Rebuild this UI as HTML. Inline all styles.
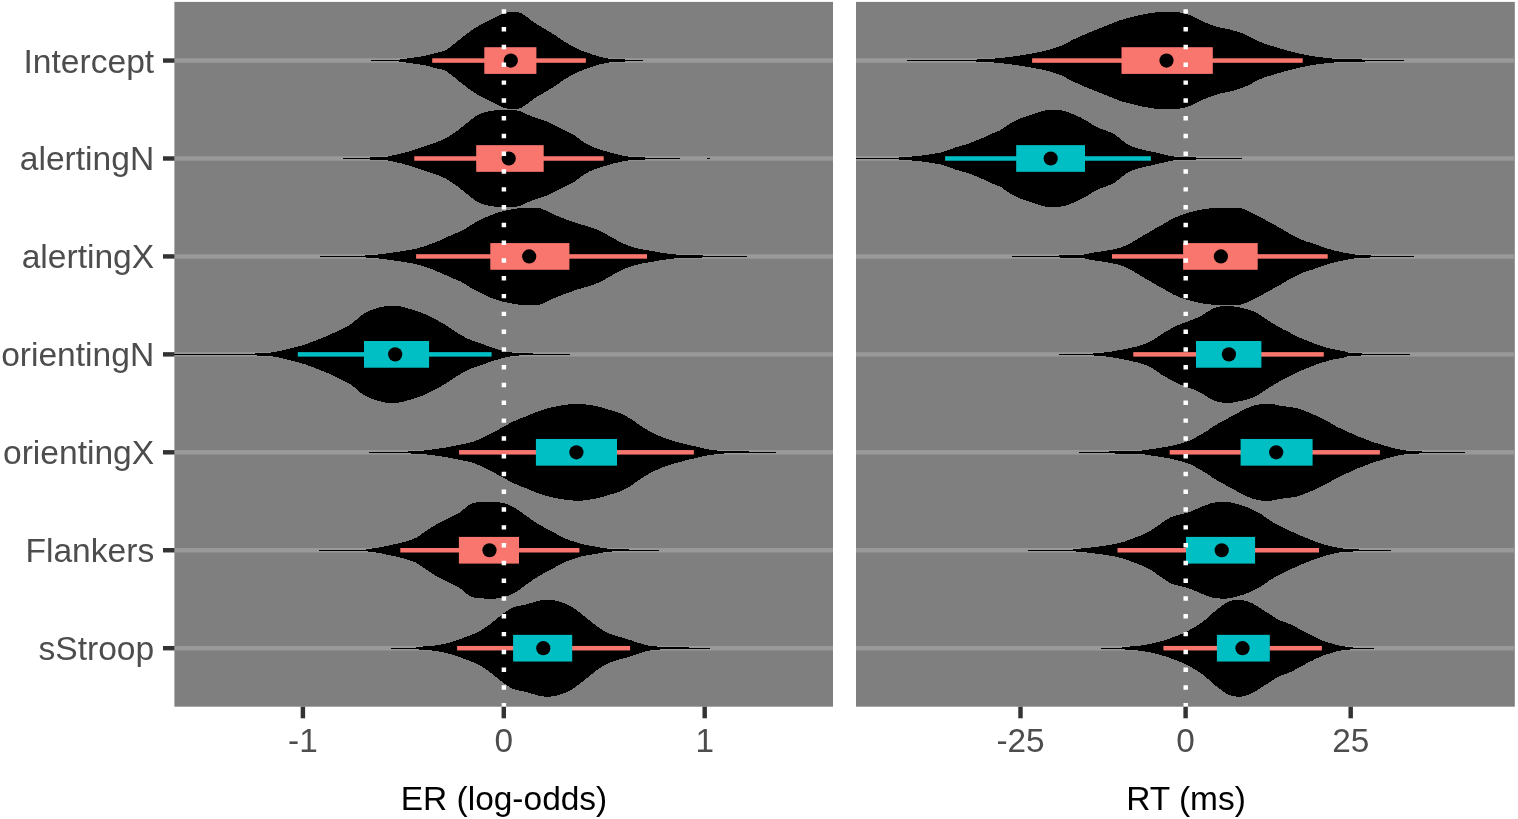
<!DOCTYPE html>
<html lang="en">
<head>
<meta charset="utf-8">
<title>Posterior estimates: ER (log-odds) and RT (ms)</title>
<style>
html,body{margin:0;padding:0;background:#fff;}
body{width:1518px;height:819px;overflow:hidden;}
svg{display:block;}
text{font-family:"Liberation Sans",sans-serif;font-size:33.33px;}
.ax{fill:#4D4D4D;}
.ti{fill:#000;font-size:33.47px;}
.yl{font-size:33.6px;}
</style>
</head>
<body>
<svg width="1518" height="819" viewBox="0 0 1518 819">
<rect x="0" y="0" width="1518" height="819" fill="#fff"/>
<g>
<rect x="174.4" y="1.9" width="658.6" height="704.8" fill="#7F7F7F"/>
<g stroke="#999999" stroke-width="4.45">
<line x1="174.4" y1="60.55" x2="833" y2="60.55"/>
<line x1="174.4" y1="158.49" x2="833" y2="158.49"/>
<line x1="174.4" y1="256.43" x2="833" y2="256.43"/>
<line x1="174.4" y1="354.37" x2="833" y2="354.37"/>
<line x1="174.4" y1="452.31" x2="833" y2="452.31"/>
<line x1="174.4" y1="550.25" x2="833" y2="550.25"/>
<line x1="174.4" y1="648.19" x2="833" y2="648.19"/>
</g>
<g fill="#000" shape-rendering="crispEdges">
<polygon points="371.2,60.05 372,60.05 373,60.05 374,60.05 375,60.05 376,60.05 377,60.05 378,60.05 379,60.05 380,60.05 381,60.05 382,60.05 383,60.05 384,60.05 385,60.05 386,60.05 387,60.05 388,60.05 389,60.05 390,60.05 391,60.05 392,60.05 393,60.05 394,60.05 395,60.05 396,60.05 397,60.05 398,60.05 399,59.74 400,59.45 401,59.26 402,59.09 403,58.94 404,58.8 405,58.68 406,58.57 407,58.45 408,58.33 409,58.21 410,58.07 411,57.92 412,57.78 413,57.65 414,57.51 415,57.37 416,57.23 417,57.09 418,56.95 419,56.8 420,56.64 421,56.48 422,56.31 423,56.13 424,55.93 425,55.72 426,55.5 427,55.26 428,55.01 429,54.75 430,54.49 431,54.22 432,53.95 433,53.68 434,53.41 435,53.15 436,52.89 437,52.65 438,52.42 439,52.21 440,52 441,51.77 442,51.53 443,51.25 444,50.92 445,50.51 446,49.97 447,49.33 448,48.63 449,47.91 450,47.2 451,46.45 452,45.66 453,44.84 454,44.01 455,43.18 456,42.36 457,41.56 458,40.76 459,39.95 460,39.15 461,38.35 462,37.56 463,36.78 464,36 465,35.22 466,34.45 467,33.69 468,32.95 469,32.21 470,31.5 471,30.79 472,30.09 473,29.4 474,28.73 475,28.08 476,27.46 477,26.86 478,26.28 479,25.71 480,25.16 481,24.62 482,24.09 483,23.57 484,23.05 485,22.55 486,22.06 487,21.57 488,21.08 489,20.58 490,20.08 491,19.58 492,19.08 493,18.58 494,18.08 495,17.58 496,17.08 497,16.55 498,16 499,15.45 500,14.93 501,14.46 502,14.05 503,13.71 504,13.37 505,13.05 506,12.76 507,12.52 508,12.35 509,12.25 510,12.19 511,12.13 512,12.08 513,12.04 514,12.01 515,12 516,12.02 517,12.14 518,12.34 519,12.57 520,12.85 521,13.24 522,13.74 523,14.3 524,14.91 525,15.53 526,16.26 527,17.06 528,17.87 529,18.64 530,19.4 531,20.17 532,20.93 533,21.67 534,22.39 535,23.08 536,23.73 537,24.35 538,24.95 539,25.53 540,26.11 541,26.69 542,27.29 543,27.88 544,28.48 545,29.08 546,29.68 547,30.28 548,30.88 549,31.48 550,32.07 551,32.65 552,33.24 553,33.83 554,34.45 555,35.08 556,35.75 557,36.45 558,37.16 559,37.88 560,38.6 561,39.29 562,39.96 563,40.63 564,41.28 565,41.93 566,42.56 567,43.18 568,43.79 569,44.39 570,44.98 571,45.56 572,46.12 573,46.67 574,47.19 575,47.69 576,48.17 577,48.63 578,49.07 579,49.5 580,49.92 581,50.32 582,50.71 583,51.09 584,51.45 585,51.8 586,52.15 587,52.5 588,52.85 589,53.22 590,53.59 591,53.97 592,54.33 593,54.69 594,55.03 595,55.34 596,55.65 597,55.95 598,56.24 599,56.51 600,56.77 601,57.01 602,57.24 603,57.47 604,57.7 605,57.92 606,58.13 607,58.31 608,58.48 609,58.62 610,58.73 611,58.81 612,58.87 613,58.93 614,58.97 615,59.01 616,59.04 617,59.07 618,59.1 619,59.13 620,59.17 621,59.22 622,59.27 623,59.34 624,59.43 625,59.53 626,59.86 627,60.05 628,60.05 629,60.05 630,60.05 631,60.05 632,60.05 633,60.05 634,60.05 635,60.05 636,60.05 637,60.05 638,60.05 639,60.05 640,60.05 641,60.05 642,60.05 643,60.05 643,60.05 643,61.05 643,61.05 642,61.05 641,61.05 640,61.05 639,61.05 638,61.05 637,61.05 636,61.05 635,61.05 634,61.05 633,61.05 632,61.05 631,61.05 630,61.05 629,61.05 628,61.05 627,61.05 626,61.24 625,61.57 624,61.67 623,61.76 622,61.83 621,61.88 620,61.93 619,61.97 618,62 617,62.03 616,62.06 615,62.09 614,62.13 613,62.17 612,62.23 611,62.29 610,62.37 609,62.48 608,62.62 607,62.79 606,62.97 605,63.18 604,63.4 603,63.63 602,63.86 601,64.09 600,64.33 599,64.59 598,64.86 597,65.15 596,65.45 595,65.76 594,66.07 593,66.41 592,66.77 591,67.13 590,67.51 589,67.88 588,68.25 587,68.6 586,68.95 585,69.3 584,69.65 583,70.01 582,70.39 581,70.78 580,71.18 579,71.6 578,72.03 577,72.47 576,72.93 575,73.41 574,73.91 573,74.43 572,74.98 571,75.54 570,76.12 569,76.71 568,77.31 567,77.92 566,78.54 565,79.17 564,79.82 563,80.47 562,81.14 561,81.81 560,82.5 559,83.22 558,83.94 557,84.65 556,85.35 555,86.02 554,86.65 553,87.27 552,87.86 551,88.45 550,89.03 549,89.62 548,90.22 547,90.82 546,91.42 545,92.02 544,92.62 543,93.22 542,93.81 541,94.41 540,94.99 539,95.57 538,96.15 537,96.75 536,97.37 535,98.02 534,98.71 533,99.43 532,100.17 531,100.93 530,101.7 529,102.46 528,103.23 527,104.04 526,104.84 525,105.57 524,106.19 523,106.8 522,107.36 521,107.86 520,108.25 519,108.53 518,108.76 517,108.96 516,109.08 515,109.1 514,109.09 513,109.06 512,109.02 511,108.97 510,108.91 509,108.85 508,108.75 507,108.58 506,108.34 505,108.05 504,107.73 503,107.39 502,107.05 501,106.64 500,106.17 499,105.65 498,105.1 497,104.55 496,104.02 495,103.52 494,103.02 493,102.52 492,102.02 491,101.52 490,101.02 489,100.52 488,100.02 487,99.53 486,99.04 485,98.55 484,98.05 483,97.53 482,97.01 481,96.48 480,95.94 479,95.39 478,94.82 477,94.24 476,93.64 475,93.02 474,92.37 473,91.7 472,91.01 471,90.31 470,89.6 469,88.89 468,88.15 467,87.41 466,86.65 465,85.88 464,85.1 463,84.32 462,83.54 461,82.75 460,81.95 459,81.15 458,80.34 457,79.54 456,78.74 455,77.92 454,77.09 453,76.26 452,75.44 451,74.65 450,73.9 449,73.19 448,72.47 447,71.77 446,71.13 445,70.59 444,70.18 443,69.85 442,69.57 441,69.33 440,69.1 439,68.89 438,68.68 437,68.45 436,68.21 435,67.95 434,67.69 433,67.42 432,67.15 431,66.88 430,66.61 429,66.35 428,66.09 427,65.84 426,65.6 425,65.38 424,65.17 423,64.97 422,64.79 421,64.62 420,64.46 419,64.3 418,64.15 417,64.01 416,63.87 415,63.73 414,63.59 413,63.45 412,63.32 411,63.18 410,63.03 409,62.89 408,62.77 407,62.65 406,62.53 405,62.42 404,62.3 403,62.16 402,62.01 401,61.84 400,61.65 399,61.36 398,61.05 397,61.05 396,61.05 395,61.05 394,61.05 393,61.05 392,61.05 391,61.05 390,61.05 389,61.05 388,61.05 387,61.05 386,61.05 385,61.05 384,61.05 383,61.05 382,61.05 381,61.05 380,61.05 379,61.05 378,61.05 377,61.05 376,61.05 375,61.05 374,61.05 373,61.05 372,61.05 371.2,61.05"/>
<polygon points="343.2,157.99 344,157.99 345,157.99 346,157.99 347,157.99 348,157.99 349,157.99 350,157.99 351,157.99 352,157.99 353,157.99 354,157.99 355,157.99 356,157.99 357,157.99 358,157.99 359,157.99 360,157.99 361,157.99 362,157.99 363,157.99 364,157.99 365,157.99 366,157.99 367,157.99 368,157.99 369,157.65 370,157.46 371,157.41 372,157.36 373,157.33 374,157.31 375,157.29 376,157.28 377,157.26 378,157.25 379,157.23 380,157.21 381,157.19 382,157.15 383,157.1 384,157.03 385,156.92 386,156.79 387,156.63 388,156.45 389,156.26 390,156.05 391,155.83 392,155.61 393,155.38 394,155.16 395,154.93 396,154.72 397,154.51 398,154.29 399,154.06 400,153.83 401,153.59 402,153.34 403,153.09 404,152.83 405,152.57 406,152.3 407,152.03 408,151.75 409,151.47 410,151.18 411,150.88 412,150.56 413,150.24 414,149.91 415,149.58 416,149.24 417,148.9 418,148.55 419,148.21 420,147.86 421,147.52 422,147.18 423,146.85 424,146.51 425,146.18 426,145.85 427,145.52 428,145.19 429,144.86 430,144.52 431,144.18 432,143.84 433,143.49 434,143.13 435,142.77 436,142.4 437,142.04 438,141.67 439,141.3 440,140.92 441,140.52 442,140.11 443,139.68 444,139.23 445,138.75 446,138.22 447,137.64 448,137.04 449,136.41 450,135.77 451,135.12 452,134.46 453,133.8 454,133.11 455,132.41 456,131.69 457,130.96 458,130.22 459,129.45 460,128.66 461,127.85 462,127.04 463,126.22 464,125.41 465,124.6 466,123.79 467,122.97 468,122.16 469,121.35 470,120.57 471,119.81 472,119.05 473,118.28 474,117.52 475,116.79 476,116.12 477,115.51 478,114.99 479,114.52 480,114.07 481,113.66 482,113.29 483,112.94 484,112.62 485,112.33 486,112.04 487,111.78 488,111.54 489,111.32 490,111.12 491,110.95 492,110.8 493,110.65 494,110.52 495,110.4 496,110.3 497,110.22 498,110.16 499,110.11 500,110.05 501,110.01 502,109.97 503,109.95 504,109.94 505,109.94 506,109.94 507,109.94 508,109.94 509,109.94 510,109.94 511,109.94 512,109.94 513,109.98 514,110.07 515,110.2 516,110.37 517,110.57 518,110.79 519,111.02 520,111.26 521,111.56 522,111.95 523,112.42 524,112.91 525,113.42 526,113.9 527,114.33 528,114.74 529,115.15 530,115.56 531,115.95 532,116.34 533,116.73 534,117.1 535,117.48 536,117.85 537,118.21 538,118.57 539,118.91 540,119.24 541,119.54 542,119.83 543,120.1 544,120.38 545,120.68 546,121.01 547,121.4 548,121.85 549,122.35 550,122.88 551,123.42 552,123.95 553,124.47 554,124.97 555,125.47 556,125.97 557,126.47 558,126.97 559,127.47 560,127.97 561,128.47 562,128.97 563,129.47 564,129.97 565,130.47 566,130.97 567,131.46 568,131.94 569,132.41 570,132.89 571,133.39 572,133.92 573,134.5 574,135.13 575,135.82 576,136.53 577,137.27 578,138.01 579,138.73 580,139.44 581,140.17 582,140.91 583,141.64 584,142.34 585,143.01 586,143.62 587,144.18 588,144.73 589,145.24 590,145.73 591,146.2 592,146.64 593,147.06 594,147.46 595,147.83 596,148.19 597,148.53 598,148.87 599,149.2 600,149.52 601,149.82 602,150.12 603,150.41 604,150.71 605,151 606,151.3 607,151.6 608,151.92 609,152.23 610,152.53 611,152.82 612,153.1 613,153.37 614,153.62 615,153.87 616,154.11 617,154.34 618,154.57 619,154.79 620,155 621,155.21 622,155.42 623,155.62 624,155.81 625,155.99 626,156.18 627,156.37 628,156.57 629,156.75 630,156.91 631,157.04 632,157.12 633,157.17 634,157.2 635,157.23 636,157.25 637,157.26 638,157.27 639,157.29 640,157.3 641,157.32 642,157.34 643,157.38 644,157.42 645,157.48 646,157.79 647,157.99 648,157.99 649,157.99 650,157.99 651,157.99 652,157.99 653,157.99 654,157.99 655,157.99 656,157.99 657,157.99 658,157.99 659,157.99 660,157.99 661,157.99 662,157.99 663,157.99 664,157.99 665,157.99 666,157.99 667,157.99 668,157.99 669,157.99 670,157.99 671,157.99 672,157.99 673,157.99 674,157.99 675,157.99 676,157.99 677,157.99 678,157.99 679,157.99 680,157.99 680.1,157.99 680.1,158.99 680,158.99 679,158.99 678,158.99 677,158.99 676,158.99 675,158.99 674,158.99 673,158.99 672,158.99 671,158.99 670,158.99 669,158.99 668,158.99 667,158.99 666,158.99 665,158.99 664,158.99 663,158.99 662,158.99 661,158.99 660,158.99 659,158.99 658,158.99 657,158.99 656,158.99 655,158.99 654,158.99 653,158.99 652,158.99 651,158.99 650,158.99 649,158.99 648,158.99 647,158.99 646,159.19 645,159.5 644,159.56 643,159.6 642,159.64 641,159.66 640,159.68 639,159.69 638,159.71 637,159.72 636,159.73 635,159.75 634,159.78 633,159.81 632,159.86 631,159.94 630,160.07 629,160.23 628,160.41 627,160.61 626,160.8 625,160.99 624,161.17 623,161.36 622,161.56 621,161.77 620,161.98 619,162.19 618,162.41 617,162.64 616,162.87 615,163.11 614,163.36 613,163.61 612,163.88 611,164.16 610,164.45 609,164.75 608,165.06 607,165.38 606,165.68 605,165.98 604,166.27 603,166.57 602,166.86 601,167.16 600,167.46 599,167.78 598,168.11 597,168.45 596,168.79 595,169.15 594,169.52 593,169.92 592,170.34 591,170.78 590,171.25 589,171.74 588,172.25 587,172.8 586,173.36 585,173.97 584,174.64 583,175.34 582,176.07 581,176.81 580,177.54 579,178.25 578,178.97 577,179.71 576,180.45 575,181.16 574,181.85 573,182.48 572,183.06 571,183.59 570,184.09 569,184.57 568,185.04 567,185.52 566,186.01 565,186.51 564,187.01 563,187.51 562,188.01 561,188.51 560,189.01 559,189.51 558,190.01 557,190.51 556,191.01 555,191.51 554,192.01 553,192.51 552,193.03 551,193.56 550,194.1 549,194.63 548,195.13 547,195.58 546,195.97 545,196.3 544,196.6 543,196.88 542,197.15 541,197.44 540,197.74 539,198.07 538,198.41 537,198.77 536,199.13 535,199.5 534,199.88 533,200.25 532,200.64 531,201.03 530,201.42 529,201.83 528,202.24 527,202.65 526,203.08 525,203.56 524,204.07 523,204.56 522,205.03 521,205.42 520,205.72 519,205.96 518,206.19 517,206.41 516,206.61 515,206.78 514,206.91 513,207 512,207.04 511,207.04 510,207.04 509,207.04 508,207.04 507,207.04 506,207.04 505,207.04 504,207.04 503,207.03 502,207.01 501,206.97 500,206.93 499,206.87 498,206.82 497,206.76 496,206.68 495,206.58 494,206.46 493,206.33 492,206.18 491,206.03 490,205.86 489,205.66 488,205.44 487,205.2 486,204.94 485,204.65 484,204.36 483,204.04 482,203.69 481,203.32 480,202.91 479,202.46 478,201.99 477,201.47 476,200.86 475,200.19 474,199.46 473,198.7 472,197.93 471,197.17 470,196.41 469,195.63 468,194.82 467,194.01 466,193.19 465,192.38 464,191.57 463,190.76 462,189.94 461,189.13 460,188.32 459,187.53 458,186.76 457,186.02 456,185.29 455,184.57 454,183.87 453,183.18 452,182.52 451,181.86 450,181.21 449,180.57 448,179.94 447,179.34 446,178.76 445,178.23 444,177.75 443,177.3 442,176.87 441,176.46 440,176.06 439,175.68 438,175.31 437,174.94 436,174.58 435,174.21 434,173.85 433,173.49 432,173.14 431,172.8 430,172.46 429,172.12 428,171.79 427,171.46 426,171.13 425,170.8 424,170.47 423,170.13 422,169.8 421,169.46 420,169.12 419,168.77 418,168.43 417,168.08 416,167.74 415,167.4 414,167.07 413,166.74 412,166.42 411,166.1 410,165.8 409,165.51 408,165.23 407,164.95 406,164.68 405,164.41 404,164.15 403,163.89 402,163.64 401,163.39 400,163.15 399,162.92 398,162.69 397,162.47 396,162.26 395,162.05 394,161.82 393,161.6 392,161.37 391,161.15 390,160.93 389,160.72 388,160.53 387,160.35 386,160.19 385,160.06 384,159.95 383,159.88 382,159.83 381,159.79 380,159.77 379,159.75 378,159.73 377,159.72 376,159.7 375,159.69 374,159.67 373,159.65 372,159.62 371,159.57 370,159.52 369,159.33 368,158.99 367,158.99 366,158.99 365,158.99 364,158.99 363,158.99 362,158.99 361,158.99 360,158.99 359,158.99 358,158.99 357,158.99 356,158.99 355,158.99 354,158.99 353,158.99 352,158.99 351,158.99 350,158.99 349,158.99 348,158.99 347,158.99 346,158.99 345,158.99 344,158.99 343.2,158.99"/>
<polygon points="319.9,255.93 320,255.93 321,255.93 322,255.93 323,255.93 324,255.93 325,255.93 326,255.93 327,255.93 328,255.93 329,255.93 330,255.93 331,255.93 332,255.93 333,255.93 334,255.93 335,255.93 336,255.93 337,255.93 338,255.93 339,255.93 340,255.93 341,255.93 342,255.93 343,255.93 344,255.93 345,255.93 346,255.93 347,255.93 348,255.93 349,255.93 350,255.93 351,255.93 352,255.93 353,255.93 354,255.93 355,255.93 356,255.93 357,255.93 358,255.93 359,255.93 360,255.93 361,255.93 362,255.93 363,255.93 364,255.92 365,255.52 366,255.35 367,255.24 368,255.16 369,255.1 370,255.04 371,255 372,254.95 373,254.91 374,254.86 375,254.79 376,254.71 377,254.62 378,254.51 379,254.4 380,254.27 381,254.14 382,254.01 383,253.87 384,253.72 385,253.58 386,253.44 387,253.29 388,253.15 389,253.01 390,252.88 391,252.75 392,252.61 393,252.48 394,252.34 395,252.21 396,252.07 397,251.93 398,251.79 399,251.65 400,251.5 401,251.35 402,251.2 403,251.04 404,250.88 405,250.72 406,250.56 407,250.39 408,250.22 409,250.05 410,249.87 411,249.69 412,249.5 413,249.3 414,249.09 415,248.87 416,248.65 417,248.4 418,248.15 419,247.88 420,247.59 421,247.3 422,247 423,246.68 424,246.36 425,246.04 426,245.7 427,245.36 428,245.02 429,244.68 430,244.32 431,243.96 432,243.58 433,243.19 434,242.79 435,242.39 436,241.98 437,241.56 438,241.14 439,240.72 440,240.29 441,239.87 442,239.44 443,239.01 444,238.56 445,238.11 446,237.65 447,237.19 448,236.72 449,236.25 450,235.79 451,235.33 452,234.88 453,234.43 454,234 455,233.58 456,233.19 457,232.82 458,232.45 459,232.06 460,231.63 461,231.15 462,230.62 463,230.05 464,229.46 465,228.84 466,228.2 467,227.55 468,226.9 469,226.24 470,225.6 471,224.98 472,224.38 473,223.81 474,223.26 475,222.72 476,222.19 477,221.66 478,221.13 479,220.62 480,220.11 481,219.61 482,219.12 483,218.64 484,218.17 485,217.71 486,217.27 487,216.84 488,216.41 489,215.98 490,215.56 491,215.15 492,214.74 493,214.35 494,213.96 495,213.59 496,213.23 497,212.89 498,212.56 499,212.26 500,211.97 501,211.7 502,211.45 503,211.21 504,210.98 505,210.76 506,210.54 507,210.33 508,210.11 509,209.9 510,209.7 511,209.5 512,209.32 513,209.15 514,208.99 515,208.82 516,208.67 517,208.53 518,208.4 519,208.3 520,208.22 521,208.13 522,208.05 523,207.98 524,207.93 525,207.89 526,207.88 527,207.88 528,207.88 529,207.88 530,207.88 531,207.88 532,207.88 533,207.88 534,207.9 535,207.92 536,207.96 537,208.01 538,208.07 539,208.14 540,208.28 541,208.54 542,208.9 543,209.33 544,209.79 545,210.24 546,210.67 547,211.14 548,211.65 549,212.18 550,212.71 551,213.23 552,213.71 553,214.16 554,214.6 555,215.03 556,215.45 557,215.86 558,216.26 559,216.66 560,217.05 561,217.43 562,217.82 563,218.19 564,218.57 565,218.95 566,219.32 567,219.69 568,220.06 569,220.42 570,220.78 571,221.14 572,221.49 573,221.84 574,222.19 575,222.53 576,222.87 577,223.2 578,223.53 579,223.85 580,224.16 581,224.46 582,224.76 583,225.04 584,225.33 585,225.61 586,225.89 587,226.18 588,226.47 589,226.78 590,227.09 591,227.42 592,227.76 593,228.11 594,228.48 595,228.86 596,229.26 597,229.66 598,230.09 599,230.52 600,230.97 601,231.44 602,231.95 603,232.47 604,233.02 605,233.58 606,234.15 607,234.73 608,235.31 609,235.9 610,236.47 611,237.04 612,237.6 613,238.14 614,238.66 615,239.2 616,239.74 617,240.29 618,240.83 619,241.37 620,241.9 621,242.41 622,242.91 623,243.4 624,243.86 625,244.29 626,244.69 627,245.07 628,245.43 629,245.78 630,246.12 631,246.45 632,246.77 633,247.07 634,247.37 635,247.65 636,247.92 637,248.18 638,248.43 639,248.66 640,248.89 641,249.1 642,249.31 643,249.5 644,249.68 645,249.86 646,250.04 647,250.2 648,250.37 649,250.54 650,250.7 651,250.87 652,251.04 653,251.21 654,251.39 655,251.57 656,251.76 657,251.94 658,252.13 659,252.31 660,252.49 661,252.66 662,252.83 663,252.99 664,253.15 665,253.29 666,253.42 667,253.54 668,253.67 669,253.79 670,253.91 671,254.03 672,254.14 673,254.25 674,254.35 675,254.44 676,254.52 677,254.6 678,254.66 679,254.72 680,254.77 681,254.8 682,254.84 683,254.87 684,254.89 685,254.91 686,254.93 687,254.95 688,254.96 689,254.98 690,254.99 691,255.01 692,255.02 693,255.04 694,255.06 695,255.08 696,255.11 697,255.14 698,255.17 699,255.21 700,255.26 701,255.31 702,255.38 703,255.47 704,255.89 705,255.93 706,255.93 707,255.93 708,255.93 709,255.93 710,255.93 711,255.93 712,255.93 713,255.93 714,255.93 715,255.93 716,255.93 717,255.93 718,255.93 719,255.93 720,255.93 721,255.93 722,255.93 723,255.93 724,255.93 725,255.93 726,255.93 727,255.93 728,255.93 729,255.93 730,255.93 731,255.93 732,255.93 733,255.93 734,255.93 735,255.93 736,255.93 737,255.93 738,255.93 739,255.93 740,255.93 741,255.93 742,255.93 743,255.93 744,255.93 745,255.93 746,255.93 746.9,255.93 746.9,256.93 746,256.93 745,256.93 744,256.93 743,256.93 742,256.93 741,256.93 740,256.93 739,256.93 738,256.93 737,256.93 736,256.93 735,256.93 734,256.93 733,256.93 732,256.93 731,256.93 730,256.93 729,256.93 728,256.93 727,256.93 726,256.93 725,256.93 724,256.93 723,256.93 722,256.93 721,256.93 720,256.93 719,256.93 718,256.93 717,256.93 716,256.93 715,256.93 714,256.93 713,256.93 712,256.93 711,256.93 710,256.93 709,256.93 708,256.93 707,256.93 706,256.93 705,256.93 704,256.97 703,257.39 702,257.48 701,257.55 700,257.6 699,257.65 698,257.69 697,257.72 696,257.75 695,257.78 694,257.8 693,257.82 692,257.84 691,257.85 690,257.87 689,257.88 688,257.9 687,257.91 686,257.93 685,257.95 684,257.97 683,257.99 682,258.02 681,258.06 680,258.09 679,258.14 678,258.2 677,258.26 676,258.34 675,258.42 674,258.51 673,258.61 672,258.72 671,258.83 670,258.95 669,259.07 668,259.19 667,259.32 666,259.44 665,259.57 664,259.71 663,259.87 662,260.03 661,260.2 660,260.37 659,260.55 658,260.73 657,260.92 656,261.1 655,261.29 654,261.47 653,261.65 652,261.82 651,261.99 650,262.16 649,262.32 648,262.49 647,262.66 646,262.82 645,263 644,263.18 643,263.36 642,263.55 641,263.76 640,263.97 639,264.2 638,264.43 637,264.68 636,264.94 635,265.21 634,265.49 633,265.79 632,266.09 631,266.41 630,266.74 629,267.08 628,267.43 627,267.79 626,268.17 625,268.57 624,269 623,269.46 622,269.95 621,270.45 620,270.96 619,271.49 618,272.03 617,272.57 616,273.12 615,273.66 614,274.2 613,274.72 612,275.26 611,275.82 610,276.39 609,276.96 608,277.55 607,278.13 606,278.71 605,279.28 604,279.84 603,280.39 602,280.91 601,281.42 600,281.89 599,282.34 598,282.77 597,283.2 596,283.6 595,284 594,284.38 593,284.75 592,285.1 591,285.44 590,285.77 589,286.08 588,286.39 587,286.68 586,286.97 585,287.25 584,287.53 583,287.82 582,288.1 581,288.4 580,288.7 579,289.01 578,289.33 577,289.66 576,289.99 575,290.33 574,290.67 573,291.02 572,291.37 571,291.72 570,292.08 569,292.44 568,292.8 567,293.17 566,293.54 565,293.91 564,294.29 563,294.67 562,295.04 561,295.43 560,295.81 559,296.2 558,296.6 557,297 556,297.41 555,297.83 554,298.26 553,298.7 552,299.15 551,299.63 550,300.15 549,300.68 548,301.21 547,301.72 546,302.19 545,302.62 544,303.07 543,303.53 542,303.96 541,304.32 540,304.58 539,304.72 538,304.79 537,304.85 536,304.9 535,304.94 534,304.96 533,304.98 532,304.98 531,304.98 530,304.98 529,304.98 528,304.98 527,304.98 526,304.98 525,304.97 524,304.93 523,304.88 522,304.81 521,304.73 520,304.64 519,304.56 518,304.46 517,304.33 516,304.19 515,304.04 514,303.87 513,303.71 512,303.54 511,303.36 510,303.16 509,302.96 508,302.75 507,302.53 506,302.32 505,302.1 504,301.88 503,301.65 502,301.41 501,301.16 500,300.89 499,300.6 498,300.3 497,299.97 496,299.63 495,299.27 494,298.9 493,298.51 492,298.12 491,297.71 490,297.3 489,296.88 488,296.45 487,296.02 486,295.59 485,295.15 484,294.69 483,294.22 482,293.74 481,293.25 480,292.75 479,292.24 478,291.73 477,291.2 476,290.67 475,290.14 474,289.6 473,289.05 472,288.48 471,287.88 470,287.26 469,286.62 468,285.96 467,285.31 466,284.66 465,284.02 464,283.4 463,282.81 462,282.24 461,281.71 460,281.23 459,280.8 458,280.41 457,280.04 456,279.67 455,279.28 454,278.86 453,278.43 452,277.98 451,277.53 450,277.07 449,276.61 448,276.14 447,275.67 446,275.21 445,274.75 444,274.3 443,273.85 442,273.42 441,272.99 440,272.57 439,272.14 438,271.72 437,271.3 436,270.88 435,270.47 434,270.07 433,269.67 432,269.28 431,268.9 430,268.54 429,268.18 428,267.84 427,267.5 426,267.16 425,266.82 424,266.5 423,266.18 422,265.86 421,265.56 420,265.27 419,264.98 418,264.71 417,264.46 416,264.21 415,263.99 414,263.77 413,263.56 412,263.36 411,263.17 410,262.99 409,262.81 408,262.64 407,262.47 406,262.3 405,262.14 404,261.98 403,261.82 402,261.66 401,261.51 400,261.36 399,261.21 398,261.07 397,260.93 396,260.79 395,260.65 394,260.52 393,260.38 392,260.25 391,260.11 390,259.98 389,259.85 388,259.71 387,259.57 386,259.42 385,259.28 384,259.14 383,258.99 382,258.85 381,258.72 380,258.59 379,258.46 378,258.35 377,258.24 376,258.15 375,258.07 374,258 373,257.95 372,257.91 371,257.86 370,257.82 369,257.76 368,257.7 367,257.62 366,257.51 365,257.34 364,256.94 363,256.93 362,256.93 361,256.93 360,256.93 359,256.93 358,256.93 357,256.93 356,256.93 355,256.93 354,256.93 353,256.93 352,256.93 351,256.93 350,256.93 349,256.93 348,256.93 347,256.93 346,256.93 345,256.93 344,256.93 343,256.93 342,256.93 341,256.93 340,256.93 339,256.93 338,256.93 337,256.93 336,256.93 335,256.93 334,256.93 333,256.93 332,256.93 331,256.93 330,256.93 329,256.93 328,256.93 327,256.93 326,256.93 325,256.93 324,256.93 323,256.93 322,256.93 321,256.93 320,256.93 319.9,256.93"/>
<polygon points="174.4,353.87 175,353.87 176,353.87 177,353.87 178,353.87 179,353.87 180,353.87 181,353.87 182,353.87 183,353.87 184,353.87 185,353.87 186,353.87 187,353.87 188,353.87 189,353.87 190,353.87 191,353.87 192,353.87 193,353.87 194,353.87 195,353.87 196,353.87 197,353.87 198,353.87 199,353.87 200,353.87 201,353.87 202,353.87 203,353.87 204,353.87 205,353.87 206,353.87 207,353.87 208,353.87 209,353.87 210,353.87 211,353.87 212,353.87 213,353.87 214,353.87 215,353.87 216,353.87 217,353.87 218,353.87 219,353.87 220,353.87 221,353.87 222,353.87 223,353.87 224,353.87 225,353.87 226,353.87 227,353.87 228,353.87 229,353.87 230,353.87 231,353.87 232,353.87 233,353.87 234,353.87 235,353.87 236,353.87 237,353.87 238,353.87 239,353.87 240,353.87 241,353.87 242,353.87 243,353.87 244,353.87 245,353.87 246,353.87 247,353.87 248,353.87 249,353.87 250,353.87 251,353.87 252,353.87 253,353.87 254,353.87 255,353.59 256,353.33 257,353.22 258,353.13 259,353.06 260,353 261,352.95 262,352.91 263,352.87 264,352.84 265,352.8 266,352.77 267,352.73 268,352.69 269,352.63 270,352.57 271,352.49 272,352.4 273,352.28 274,352.14 275,351.98 276,351.8 277,351.6 278,351.38 279,351.15 280,350.91 281,350.67 282,350.41 283,350.16 284,349.9 285,349.64 286,349.39 287,349.14 288,348.89 289,348.66 290,348.43 291,348.19 292,347.96 293,347.72 294,347.49 295,347.24 296,347 297,346.75 298,346.49 299,346.22 300,345.95 301,345.67 302,345.38 303,345.08 304,344.76 305,344.44 306,344.1 307,343.76 308,343.4 309,343.05 310,342.68 311,342.31 312,341.94 313,341.56 314,341.18 315,340.8 316,340.42 317,340.03 318,339.64 319,339.25 320,338.85 321,338.44 322,338.03 323,337.62 324,337.2 325,336.78 326,336.35 327,335.92 328,335.49 329,335.06 330,334.62 331,334.18 332,333.73 333,333.27 334,332.81 335,332.34 336,331.86 337,331.38 338,330.89 339,330.39 340,329.89 341,329.38 342,328.87 343,328.37 344,327.88 345,327.41 346,326.94 347,326.47 348,325.97 349,325.43 350,324.83 351,324.14 352,323.36 353,322.53 354,321.68 355,320.82 356,319.98 357,319.16 358,318.32 359,317.47 360,316.62 361,315.81 362,315.05 363,314.37 364,313.74 365,313.14 366,312.57 367,312.04 368,311.54 369,311.07 370,310.64 371,310.23 372,309.84 373,309.48 374,309.14 375,308.81 376,308.5 377,308.2 378,307.9 379,307.62 380,307.35 381,307.1 382,306.88 383,306.69 384,306.5 385,306.31 386,306.13 387,305.98 388,305.88 389,305.82 390,305.82 391,305.82 392,305.82 393,305.82 394,305.82 395,305.82 396,305.82 397,305.87 398,305.98 399,306.15 400,306.35 401,306.56 402,306.78 403,306.99 404,307.23 405,307.5 406,307.8 407,308.1 408,308.41 409,308.71 410,309.01 411,309.33 412,309.65 413,309.97 414,310.3 415,310.63 416,310.96 417,311.28 418,311.61 419,311.94 420,312.27 421,312.63 422,313 423,313.4 424,313.82 425,314.26 426,314.72 427,315.19 428,315.68 429,316.16 430,316.65 431,317.15 432,317.64 433,318.14 434,318.65 435,319.17 436,319.69 437,320.21 438,320.75 439,321.29 440,321.84 441,322.4 442,322.97 443,323.55 444,324.15 445,324.77 446,325.41 447,326.06 448,326.73 449,327.41 450,328.09 451,328.77 452,329.45 453,330.12 454,330.77 455,331.41 456,332.03 457,332.63 458,333.23 459,333.83 460,334.43 461,335.03 462,335.61 463,336.19 464,336.75 465,337.3 466,337.83 467,338.34 468,338.82 469,339.28 470,339.71 471,340.12 472,340.5 473,340.88 474,341.23 475,341.58 476,341.91 477,342.24 478,342.57 479,342.89 480,343.22 481,343.55 482,343.89 483,344.24 484,344.6 485,344.96 486,345.33 487,345.7 488,346.07 489,346.44 490,346.8 491,347.16 492,347.51 493,347.85 494,348.18 495,348.49 496,348.79 497,349.09 498,349.38 499,349.68 500,349.97 501,350.25 502,350.53 503,350.8 504,351.05 505,351.29 506,351.51 507,351.71 508,351.89 509,352.05 510,352.2 511,352.34 512,352.48 513,352.62 514,352.76 515,352.88 516,353 517,353.1 518,353.19 519,353.27 520,353.33 521,353.36 522,353.38 523,353.38 524,353.38 525,353.38 526,353.38 527,353.38 528,353.37 529,353.37 530,353.37 531,353.37 532,353.37 533,353.4 534,353.83 535,353.87 536,353.87 537,353.87 538,353.87 539,353.87 540,353.87 541,353.87 542,353.87 543,353.87 544,353.87 545,353.87 546,353.87 547,353.87 548,353.87 549,353.87 550,353.87 551,353.87 552,353.87 553,353.87 554,353.87 555,353.87 556,353.87 557,353.87 558,353.87 559,353.87 560,353.87 561,353.87 562,353.87 563,353.87 564,353.87 565,353.87 566,353.87 567,353.87 568,353.87 569,353.87 569.9,353.87 569.9,354.87 569,354.87 568,354.87 567,354.87 566,354.87 565,354.87 564,354.87 563,354.87 562,354.87 561,354.87 560,354.87 559,354.87 558,354.87 557,354.87 556,354.87 555,354.87 554,354.87 553,354.87 552,354.87 551,354.87 550,354.87 549,354.87 548,354.87 547,354.87 546,354.87 545,354.87 544,354.87 543,354.87 542,354.87 541,354.87 540,354.87 539,354.87 538,354.87 537,354.87 536,354.87 535,354.87 534,354.91 533,355.34 532,355.37 531,355.37 530,355.37 529,355.37 528,355.37 527,355.36 526,355.36 525,355.36 524,355.36 523,355.36 522,355.36 521,355.38 520,355.41 519,355.47 518,355.55 517,355.64 516,355.74 515,355.86 514,355.98 513,356.12 512,356.26 511,356.4 510,356.54 509,356.69 508,356.85 507,357.03 506,357.23 505,357.45 504,357.69 503,357.94 502,358.21 501,358.49 500,358.77 499,359.06 498,359.36 497,359.65 496,359.95 495,360.25 494,360.56 493,360.89 492,361.23 491,361.58 490,361.94 489,362.3 488,362.67 487,363.04 486,363.41 485,363.78 484,364.14 483,364.5 482,364.85 481,365.19 480,365.52 479,365.85 478,366.17 477,366.5 476,366.83 475,367.16 474,367.51 473,367.86 472,368.24 471,368.62 470,369.03 469,369.46 468,369.92 467,370.4 466,370.91 465,371.44 464,371.99 463,372.55 462,373.13 461,373.71 460,374.31 459,374.91 458,375.51 457,376.11 456,376.71 455,377.33 454,377.97 453,378.62 452,379.29 451,379.97 450,380.65 449,381.33 448,382.01 447,382.68 446,383.33 445,383.97 444,384.59 443,385.19 442,385.77 441,386.34 440,386.9 439,387.45 438,387.99 437,388.53 436,389.05 435,389.57 434,390.09 433,390.6 432,391.1 431,391.59 430,392.09 429,392.58 428,393.06 427,393.55 426,394.02 425,394.48 424,394.92 423,395.34 422,395.74 421,396.11 420,396.47 419,396.8 418,397.13 417,397.46 416,397.78 415,398.11 414,398.44 413,398.77 412,399.09 411,399.41 410,399.73 409,400.03 408,400.33 407,400.64 406,400.94 405,401.24 404,401.51 403,401.75 402,401.96 401,402.18 400,402.39 399,402.59 398,402.76 397,402.87 396,402.92 395,402.92 394,402.92 393,402.92 392,402.92 391,402.92 390,402.92 389,402.92 388,402.86 387,402.76 386,402.61 385,402.43 384,402.24 383,402.05 382,401.86 381,401.64 380,401.39 379,401.12 378,400.84 377,400.54 376,400.24 375,399.93 374,399.6 373,399.26 372,398.9 371,398.51 370,398.1 369,397.67 368,397.2 367,396.7 366,396.17 365,395.6 364,395 363,394.37 362,393.69 361,392.93 360,392.12 359,391.27 358,390.42 357,389.58 356,388.76 355,387.92 354,387.06 353,386.21 352,385.38 351,384.6 350,383.91 349,383.31 348,382.77 347,382.27 346,381.8 345,381.33 344,380.86 343,380.37 342,379.87 341,379.36 340,378.85 339,378.35 338,377.85 337,377.36 336,376.88 335,376.4 334,375.93 333,375.47 332,375.01 331,374.56 330,374.12 329,373.68 328,373.25 327,372.82 326,372.39 325,371.96 324,371.54 323,371.12 322,370.71 321,370.3 320,369.89 319,369.49 318,369.1 317,368.71 316,368.32 315,367.94 314,367.56 313,367.18 312,366.8 311,366.43 310,366.06 309,365.69 308,365.34 307,364.98 306,364.64 305,364.3 304,363.98 303,363.66 302,363.36 301,363.07 300,362.79 299,362.52 298,362.25 297,361.99 296,361.74 295,361.5 294,361.25 293,361.02 292,360.78 291,360.55 290,360.31 289,360.08 288,359.85 287,359.6 286,359.35 285,359.1 284,358.84 283,358.58 282,358.33 281,358.07 280,357.83 279,357.59 278,357.36 277,357.14 276,356.94 275,356.76 274,356.6 273,356.46 272,356.34 271,356.25 270,356.17 269,356.11 268,356.05 267,356.01 266,355.97 265,355.94 264,355.9 263,355.87 262,355.83 261,355.79 260,355.74 259,355.68 258,355.61 257,355.52 256,355.41 255,355.15 254,354.87 253,354.87 252,354.87 251,354.87 250,354.87 249,354.87 248,354.87 247,354.87 246,354.87 245,354.87 244,354.87 243,354.87 242,354.87 241,354.87 240,354.87 239,354.87 238,354.87 237,354.87 236,354.87 235,354.87 234,354.87 233,354.87 232,354.87 231,354.87 230,354.87 229,354.87 228,354.87 227,354.87 226,354.87 225,354.87 224,354.87 223,354.87 222,354.87 221,354.87 220,354.87 219,354.87 218,354.87 217,354.87 216,354.87 215,354.87 214,354.87 213,354.87 212,354.87 211,354.87 210,354.87 209,354.87 208,354.87 207,354.87 206,354.87 205,354.87 204,354.87 203,354.87 202,354.87 201,354.87 200,354.87 199,354.87 198,354.87 197,354.87 196,354.87 195,354.87 194,354.87 193,354.87 192,354.87 191,354.87 190,354.87 189,354.87 188,354.87 187,354.87 186,354.87 185,354.87 184,354.87 183,354.87 182,354.87 181,354.87 180,354.87 179,354.87 178,354.87 177,354.87 176,354.87 175,354.87 174.4,354.87"/>
<polygon points="369,451.81 369,451.81 370,451.81 371,451.81 372,451.81 373,451.81 374,451.81 375,451.81 376,451.81 377,451.81 378,451.81 379,451.81 380,451.81 381,451.81 382,451.81 383,451.81 384,451.81 385,451.81 386,451.81 387,451.81 388,451.81 389,451.81 390,451.81 391,451.81 392,451.81 393,451.81 394,451.81 395,451.81 396,451.81 397,451.81 398,451.81 399,451.81 400,451.81 401,451.81 402,451.81 403,451.81 404,451.81 405,451.81 406,451.81 407,451.81 408,451.58 409,451.28 410,451.2 411,451.13 412,451.07 413,451.03 414,451 415,450.97 416,450.94 417,450.91 418,450.88 419,450.84 420,450.79 421,450.73 422,450.65 423,450.56 424,450.47 425,450.36 426,450.25 427,450.14 428,450.02 429,449.89 430,449.77 431,449.64 432,449.52 433,449.39 434,449.26 435,449.13 436,448.99 437,448.85 438,448.71 439,448.57 440,448.42 441,448.26 442,448.11 443,447.95 444,447.79 445,447.62 446,447.45 447,447.28 448,447.1 449,446.91 450,446.72 451,446.53 452,446.33 453,446.13 454,445.92 455,445.72 456,445.51 457,445.3 458,445.09 459,444.89 460,444.69 461,444.49 462,444.3 463,444.11 464,443.91 465,443.72 466,443.51 467,443.3 468,443.09 469,442.86 470,442.61 471,442.35 472,442.08 473,441.77 474,441.44 475,441.07 476,440.69 477,440.28 478,439.85 479,439.4 480,438.95 481,438.48 482,438.01 483,437.53 484,437.06 485,436.59 486,436.12 487,435.63 488,435.14 489,434.63 490,434.11 491,433.59 492,433.06 493,432.53 494,431.99 495,431.44 496,430.9 497,430.36 498,429.82 499,429.28 500,428.74 501,428.21 502,427.66 503,427.1 504,426.54 505,425.97 506,425.41 507,424.85 508,424.29 509,423.75 510,423.21 511,422.69 512,422.19 513,421.71 514,421.24 515,420.79 516,420.36 517,419.93 518,419.52 519,419.11 520,418.7 521,418.31 522,417.91 523,417.52 524,417.12 525,416.73 526,416.33 527,415.93 528,415.52 529,415.11 530,414.69 531,414.28 532,413.87 533,413.47 534,413.06 535,412.67 536,412.28 537,411.91 538,411.54 539,411.19 540,410.85 541,410.52 542,410.19 543,409.86 544,409.54 545,409.23 546,408.93 547,408.63 548,408.34 549,408.06 550,407.79 551,407.54 552,407.29 553,407.06 554,406.84 555,406.63 556,406.43 557,406.24 558,406.06 559,405.88 560,405.71 561,405.53 562,405.36 563,405.2 564,405.05 565,404.91 566,404.78 567,404.66 568,404.55 569,404.45 570,404.35 571,404.26 572,404.18 573,404.11 574,404.03 575,403.95 576,403.88 577,403.82 578,403.78 579,403.76 580,403.78 581,403.85 582,403.94 583,404.06 584,404.2 585,404.33 586,404.45 587,404.59 588,404.73 589,404.89 590,405.06 591,405.23 592,405.4 593,405.58 594,405.76 595,405.94 596,406.13 597,406.34 598,406.55 599,406.78 600,407.04 601,407.32 602,407.63 603,407.94 604,408.25 605,408.56 606,408.86 607,409.15 608,409.45 609,409.74 610,410.03 611,410.33 612,410.62 613,410.91 614,411.18 615,411.46 616,411.74 617,412.03 618,412.36 619,412.72 620,413.12 621,413.55 622,414 623,414.49 624,415 625,415.53 626,416.08 627,416.64 628,417.21 629,417.8 630,418.39 631,419.01 632,419.67 633,420.37 634,421.08 635,421.8 636,422.51 637,423.2 638,423.9 639,424.61 640,425.31 641,426.01 642,426.68 643,427.34 644,427.97 645,428.59 646,429.19 647,429.79 648,430.36 649,430.92 650,431.46 651,431.98 652,432.49 653,432.99 654,433.47 655,433.94 656,434.41 657,434.87 658,435.32 659,435.77 660,436.21 661,436.63 662,437.05 663,437.44 664,437.83 665,438.2 666,438.56 667,438.91 668,439.25 669,439.58 670,439.9 671,440.21 672,440.52 673,440.81 674,441.1 675,441.38 676,441.66 677,441.93 678,442.19 679,442.44 680,442.69 681,442.94 682,443.19 683,443.45 684,443.73 685,444.02 686,444.31 687,444.6 688,444.87 689,445.12 690,445.34 691,445.54 692,445.73 693,445.91 694,446.1 695,446.29 696,446.51 697,446.75 698,447.01 699,447.28 700,447.55 701,447.81 702,448.06 703,448.28 704,448.5 705,448.71 706,448.92 707,449.11 708,449.29 709,449.45 710,449.6 711,449.75 712,449.89 713,450.02 714,450.15 715,450.27 716,450.39 717,450.5 718,450.6 719,450.7 720,450.79 721,450.88 722,450.98 723,451.07 724,451.16 725,451.24 726,451.31 727,451.36 728,451.39 729,451.4 730,451.4 731,451.4 732,451.39 733,451.39 734,451.38 735,451.38 736,451.37 737,451.37 738,451.36 739,451.35 740,451.35 741,451.34 742,451.33 743,451.33 744,451.32 745,451.32 746,451.31 747,451.31 748,451.31 749,451.41 750,451.81 751,451.81 752,451.81 753,451.81 754,451.81 755,451.81 756,451.81 757,451.81 758,451.81 759,451.81 760,451.81 761,451.81 762,451.81 763,451.81 764,451.81 765,451.81 766,451.81 767,451.81 768,451.81 769,451.81 770,451.81 771,451.81 772,451.81 773,451.81 774,451.81 775,451.81 775.6,451.81 775.6,452.81 775,452.81 774,452.81 773,452.81 772,452.81 771,452.81 770,452.81 769,452.81 768,452.81 767,452.81 766,452.81 765,452.81 764,452.81 763,452.81 762,452.81 761,452.81 760,452.81 759,452.81 758,452.81 757,452.81 756,452.81 755,452.81 754,452.81 753,452.81 752,452.81 751,452.81 750,452.81 749,453.21 748,453.31 747,453.31 746,453.31 745,453.3 744,453.3 743,453.29 742,453.29 741,453.28 740,453.27 739,453.27 738,453.26 737,453.25 736,453.25 735,453.24 734,453.24 733,453.23 732,453.23 731,453.22 730,453.22 729,453.22 728,453.23 727,453.26 726,453.31 725,453.38 724,453.46 723,453.55 722,453.64 721,453.74 720,453.83 719,453.92 718,454.02 717,454.12 716,454.23 715,454.35 714,454.47 713,454.6 712,454.73 711,454.87 710,455.02 709,455.17 708,455.33 707,455.51 706,455.7 705,455.91 704,456.12 703,456.34 702,456.56 701,456.81 700,457.07 699,457.34 698,457.61 697,457.87 696,458.11 695,458.33 694,458.52 693,458.71 692,458.89 691,459.08 690,459.28 689,459.5 688,459.75 687,460.02 686,460.31 685,460.6 684,460.89 683,461.17 682,461.43 681,461.68 680,461.93 679,462.18 678,462.43 677,462.69 676,462.96 675,463.24 674,463.52 673,463.81 672,464.1 671,464.41 670,464.72 669,465.04 668,465.37 667,465.71 666,466.06 665,466.42 664,466.79 663,467.18 662,467.57 661,467.99 660,468.41 659,468.85 658,469.3 657,469.75 656,470.21 655,470.68 654,471.15 653,471.63 652,472.13 651,472.64 650,473.16 649,473.7 648,474.26 647,474.83 646,475.43 645,476.03 644,476.65 643,477.28 642,477.94 641,478.61 640,479.31 639,480.01 638,480.72 637,481.42 636,482.11 635,482.82 634,483.54 633,484.25 632,484.95 631,485.61 630,486.23 629,486.82 628,487.41 627,487.98 626,488.54 625,489.09 624,489.62 623,490.13 622,490.62 621,491.07 620,491.5 619,491.9 618,492.26 617,492.59 616,492.88 615,493.16 614,493.44 613,493.71 612,494 611,494.29 610,494.59 609,494.88 608,495.17 607,495.47 606,495.76 605,496.06 604,496.37 603,496.68 602,496.99 601,497.3 600,497.58 599,497.84 598,498.07 597,498.28 596,498.49 595,498.68 594,498.86 593,499.04 592,499.22 591,499.39 590,499.56 589,499.73 588,499.89 587,500.03 586,500.17 585,500.29 584,500.42 583,500.56 582,500.68 581,500.77 580,500.84 579,500.86 578,500.84 577,500.8 576,500.74 575,500.67 574,500.59 573,500.51 572,500.44 571,500.36 570,500.27 569,500.17 568,500.07 567,499.96 566,499.84 565,499.71 564,499.57 563,499.42 562,499.26 561,499.09 560,498.91 559,498.74 558,498.56 557,498.38 556,498.19 555,497.99 554,497.78 553,497.56 552,497.33 551,497.08 550,496.83 549,496.56 548,496.28 547,495.99 546,495.69 545,495.39 544,495.08 543,494.76 542,494.43 541,494.1 540,493.77 539,493.43 538,493.08 537,492.71 536,492.34 535,491.95 534,491.56 533,491.15 532,490.75 531,490.34 530,489.93 529,489.51 528,489.1 527,488.69 526,488.29 525,487.89 524,487.5 523,487.1 522,486.71 521,486.31 520,485.92 519,485.51 518,485.1 517,484.69 516,484.26 515,483.83 514,483.38 513,482.91 512,482.43 511,481.93 510,481.41 509,480.87 508,480.33 507,479.77 506,479.21 505,478.65 504,478.08 503,477.52 502,476.96 501,476.41 500,475.88 499,475.34 498,474.8 497,474.26 496,473.72 495,473.18 494,472.63 493,472.09 492,471.56 491,471.03 490,470.51 489,469.99 488,469.48 487,468.99 486,468.5 485,468.03 484,467.56 483,467.09 482,466.61 481,466.14 480,465.67 479,465.22 478,464.77 477,464.34 476,463.93 475,463.55 474,463.18 473,462.85 472,462.54 471,462.27 470,462.01 469,461.76 468,461.53 467,461.32 466,461.11 465,460.9 464,460.71 463,460.51 462,460.32 461,460.13 460,459.93 459,459.73 458,459.53 457,459.32 456,459.11 455,458.9 454,458.7 453,458.49 452,458.29 451,458.09 450,457.9 449,457.71 448,457.52 447,457.34 446,457.17 445,457 444,456.83 443,456.67 442,456.51 441,456.36 440,456.2 439,456.05 438,455.91 437,455.77 436,455.63 435,455.49 434,455.36 433,455.23 432,455.1 431,454.98 430,454.85 429,454.73 428,454.6 427,454.48 426,454.37 425,454.26 424,454.15 423,454.06 422,453.97 421,453.89 420,453.83 419,453.78 418,453.74 417,453.71 416,453.68 415,453.65 414,453.62 413,453.59 412,453.55 411,453.49 410,453.42 409,453.34 408,453.04 407,452.81 406,452.81 405,452.81 404,452.81 403,452.81 402,452.81 401,452.81 400,452.81 399,452.81 398,452.81 397,452.81 396,452.81 395,452.81 394,452.81 393,452.81 392,452.81 391,452.81 390,452.81 389,452.81 388,452.81 387,452.81 386,452.81 385,452.81 384,452.81 383,452.81 382,452.81 381,452.81 380,452.81 379,452.81 378,452.81 377,452.81 376,452.81 375,452.81 374,452.81 373,452.81 372,452.81 371,452.81 370,452.81 369,452.81 369,452.81"/>
<polygon points="319,549.75 319,549.75 320,549.75 321,549.75 322,549.75 323,549.75 324,549.75 325,549.75 326,549.75 327,549.75 328,549.75 329,549.75 330,549.75 331,549.75 332,549.75 333,549.75 334,549.75 335,549.75 336,549.75 337,549.75 338,549.75 339,549.75 340,549.75 341,549.75 342,549.75 343,549.75 344,549.75 345,549.75 346,549.75 347,549.75 348,549.75 349,549.75 350,549.75 351,549.75 352,549.75 353,549.75 354,549.75 355,549.75 356,549.75 357,549.75 358,549.75 359,549.75 360,549.75 361,549.75 362,549.75 363,549.75 364,549.75 365,549.75 366,549.49 367,549.18 368,549.01 369,548.86 370,548.74 371,548.63 372,548.53 373,548.44 374,548.33 375,548.21 376,548.06 377,547.9 378,547.73 379,547.55 380,547.36 381,547.16 382,546.95 383,546.74 384,546.53 385,546.31 386,546.09 387,545.87 388,545.65 389,545.43 390,545.21 391,544.99 392,544.78 393,544.57 394,544.35 395,544.13 396,543.91 397,543.69 398,543.47 399,543.23 400,543 401,542.76 402,542.51 403,542.25 404,541.99 405,541.71 406,541.43 407,541.13 408,540.82 409,540.5 410,540.16 411,539.82 412,539.47 413,539.1 414,538.7 415,538.27 416,537.81 417,537.28 418,536.66 419,535.96 420,535.22 421,534.46 422,533.72 423,533.02 424,532.35 425,531.69 426,531.03 427,530.38 428,529.73 429,529.09 430,528.44 431,527.79 432,527.14 433,526.5 434,525.86 435,525.24 436,524.63 437,524.04 438,523.47 439,522.9 440,522.34 441,521.8 442,521.27 443,520.75 444,520.26 445,519.77 446,519.3 447,518.83 448,518.37 449,517.91 450,517.45 451,517.01 452,516.57 453,516.14 454,515.69 455,515.21 456,514.7 457,514.15 458,513.57 459,512.95 460,512.3 461,511.6 462,510.83 463,509.94 464,509.01 465,508.09 466,507.24 467,506.5 468,505.78 469,505.08 470,504.46 471,503.94 472,503.55 473,503.21 474,502.91 475,502.66 476,502.47 477,502.35 478,502.28 479,502.22 480,502.18 481,502.14 482,502.1 483,502.05 484,502 485,501.94 486,501.89 487,501.83 488,501.79 489,501.75 490,501.72 491,501.7 492,501.7 493,501.74 494,501.79 495,501.87 496,501.96 497,502.07 498,502.19 499,502.31 500,502.44 501,502.62 502,502.84 503,503.08 504,503.35 505,503.64 506,503.94 507,504.27 508,504.63 509,505.04 510,505.47 511,505.91 512,506.39 513,506.89 514,507.43 515,508 516,508.59 517,509.21 518,509.87 519,510.57 520,511.28 521,512 522,512.72 523,513.45 524,514.18 525,514.93 526,515.67 527,516.41 528,517.14 529,517.85 530,518.57 531,519.28 532,519.98 533,520.67 534,521.35 535,522 536,522.63 537,523.24 538,523.84 539,524.42 540,525 541,525.58 542,526.15 543,526.72 544,527.28 545,527.83 546,528.38 547,528.93 548,529.47 549,530.02 550,530.56 551,531.09 552,531.62 553,532.16 554,532.69 555,533.22 556,533.77 557,534.32 558,534.87 559,535.41 560,535.94 561,536.45 562,536.94 563,537.43 564,537.91 565,538.37 566,538.82 567,539.24 568,539.64 569,540.01 570,540.36 571,540.7 572,541.02 573,541.34 574,541.67 575,541.99 576,542.33 577,542.67 578,543 579,543.32 580,543.62 581,543.89 582,544.14 583,544.37 584,544.59 585,544.8 586,545 587,545.19 588,545.38 589,545.56 590,545.73 591,545.89 592,546.04 593,546.18 594,546.33 595,546.49 596,546.67 597,546.88 598,547.1 599,547.32 600,547.52 601,547.71 602,547.86 603,547.99 604,548.13 605,548.26 606,548.39 607,548.52 608,548.64 609,548.75 610,548.84 611,548.93 612,549 613,549.06 614,549.11 615,549.13 616,549.14 617,549.16 618,549.16 619,549.17 620,549.17 621,549.18 622,549.18 623,549.18 624,549.19 625,549.2 626,549.21 627,549.23 628,549.25 629,549.58 630,549.75 631,549.75 632,549.75 633,549.75 634,549.75 635,549.75 636,549.75 637,549.75 638,549.75 639,549.75 640,549.75 641,549.75 642,549.75 643,549.75 644,549.75 645,549.75 646,549.75 647,549.75 648,549.75 649,549.75 650,549.75 651,549.75 652,549.75 653,549.75 654,549.75 655,549.75 656,549.75 657,549.75 658,549.75 659,549.75 659,549.75 659,550.75 659,550.75 658,550.75 657,550.75 656,550.75 655,550.75 654,550.75 653,550.75 652,550.75 651,550.75 650,550.75 649,550.75 648,550.75 647,550.75 646,550.75 645,550.75 644,550.75 643,550.75 642,550.75 641,550.75 640,550.75 639,550.75 638,550.75 637,550.75 636,550.75 635,550.75 634,550.75 633,550.75 632,550.75 631,550.75 630,550.75 629,550.92 628,551.25 627,551.27 626,551.29 625,551.3 624,551.31 623,551.32 622,551.32 621,551.32 620,551.33 619,551.33 618,551.34 617,551.34 616,551.36 615,551.37 614,551.39 613,551.44 612,551.5 611,551.57 610,551.66 609,551.75 608,551.86 607,551.98 606,552.11 605,552.24 604,552.37 603,552.51 602,552.64 601,552.79 600,552.98 599,553.18 598,553.4 597,553.62 596,553.83 595,554.01 594,554.17 593,554.32 592,554.46 591,554.61 590,554.77 589,554.94 588,555.12 587,555.31 586,555.5 585,555.7 584,555.91 583,556.13 582,556.36 581,556.61 580,556.88 579,557.18 578,557.5 577,557.83 576,558.17 575,558.51 574,558.83 573,559.16 572,559.48 571,559.8 570,560.14 569,560.49 568,560.86 567,561.26 566,561.68 565,562.13 564,562.59 563,563.07 562,563.56 561,564.05 560,564.56 559,565.09 558,565.63 557,566.18 556,566.73 555,567.28 554,567.81 553,568.34 552,568.88 551,569.41 550,569.94 549,570.48 548,571.03 547,571.57 546,572.12 545,572.67 544,573.22 543,573.78 542,574.35 541,574.92 540,575.5 539,576.08 538,576.66 537,577.26 536,577.87 535,578.5 534,579.15 533,579.83 532,580.52 531,581.22 530,581.93 529,582.65 528,583.36 527,584.09 526,584.83 525,585.57 524,586.32 523,587.05 522,587.78 521,588.5 520,589.22 519,589.93 518,590.63 517,591.29 516,591.91 515,592.5 514,593.07 513,593.61 512,594.11 511,594.59 510,595.03 509,595.46 508,595.87 507,596.23 506,596.56 505,596.86 504,597.15 503,597.42 502,597.66 501,597.88 500,598.06 499,598.19 498,598.31 497,598.43 496,598.54 495,598.63 494,598.71 493,598.76 492,598.8 491,598.8 490,598.78 489,598.75 488,598.71 487,598.67 486,598.61 485,598.56 484,598.5 483,598.45 482,598.4 481,598.36 480,598.32 479,598.28 478,598.22 477,598.15 476,598.03 475,597.84 474,597.59 473,597.29 472,596.95 471,596.56 470,596.04 469,595.42 468,594.72 467,594 466,593.26 465,592.41 464,591.49 463,590.56 462,589.67 461,588.9 460,588.2 459,587.55 458,586.93 457,586.35 456,585.8 455,585.29 454,584.81 453,584.36 452,583.93 451,583.49 450,583.05 449,582.59 448,582.13 447,581.67 446,581.2 445,580.73 444,580.24 443,579.75 442,579.23 441,578.7 440,578.16 439,577.6 438,577.03 437,576.46 436,575.87 435,575.26 434,574.64 433,574 432,573.36 431,572.71 430,572.06 429,571.41 428,570.77 427,570.12 426,569.47 425,568.81 424,568.15 423,567.48 422,566.78 421,566.04 420,565.28 419,564.54 418,563.84 417,563.22 416,562.69 415,562.23 414,561.8 413,561.4 412,561.03 411,560.68 410,560.34 409,560 408,559.68 407,559.37 406,559.07 405,558.79 404,558.51 403,558.25 402,557.99 401,557.74 400,557.5 399,557.27 398,557.03 397,556.81 396,556.59 395,556.37 394,556.15 393,555.93 392,555.72 391,555.51 390,555.29 389,555.07 388,554.85 387,554.63 386,554.41 385,554.19 384,553.97 383,553.76 382,553.55 381,553.34 380,553.14 379,552.95 378,552.77 377,552.6 376,552.44 375,552.29 374,552.17 373,552.06 372,551.97 371,551.87 370,551.76 369,551.64 368,551.49 367,551.32 366,551.01 365,550.75 364,550.75 363,550.75 362,550.75 361,550.75 360,550.75 359,550.75 358,550.75 357,550.75 356,550.75 355,550.75 354,550.75 353,550.75 352,550.75 351,550.75 350,550.75 349,550.75 348,550.75 347,550.75 346,550.75 345,550.75 344,550.75 343,550.75 342,550.75 341,550.75 340,550.75 339,550.75 338,550.75 337,550.75 336,550.75 335,550.75 334,550.75 333,550.75 332,550.75 331,550.75 330,550.75 329,550.75 328,550.75 327,550.75 326,550.75 325,550.75 324,550.75 323,550.75 322,550.75 321,550.75 320,550.75 319,550.75 319,550.75"/>
<polygon points="391.2,647.69 392,647.69 393,647.69 394,647.69 395,647.69 396,647.69 397,647.69 398,647.69 399,647.69 400,647.69 401,647.69 402,647.69 403,647.69 404,647.69 405,647.69 406,647.69 407,647.69 408,647.69 409,647.69 410,647.69 411,647.69 412,647.69 413,647.69 414,647.69 415,647.69 416,647.53 417,647.17 418,647.02 419,646.89 420,646.78 421,646.68 422,646.6 423,646.53 424,646.46 425,646.4 426,646.34 427,646.28 428,646.22 429,646.16 430,646.08 431,646 432,645.9 433,645.78 434,645.66 435,645.52 436,645.37 437,645.2 438,645.04 439,644.86 440,644.67 441,644.48 442,644.28 443,644.07 444,643.87 445,643.65 446,643.44 447,643.21 448,642.96 449,642.7 450,642.42 451,642.13 452,641.83 453,641.52 454,641.2 455,640.87 456,640.53 457,640.19 458,639.84 459,639.48 460,639.12 461,638.76 462,638.4 463,638.03 464,637.67 465,637.31 466,636.94 467,636.57 468,636.2 469,635.82 470,635.44 471,635.05 472,634.64 473,634.23 474,633.8 475,633.36 476,632.9 477,632.42 478,631.92 479,631.38 480,630.82 481,630.25 482,629.65 483,629.04 484,628.4 485,627.74 486,627.05 487,626.34 488,625.62 489,624.88 490,624.14 491,623.37 492,622.58 493,621.78 494,620.97 495,620.16 496,619.35 497,618.55 498,617.74 499,616.93 500,616.13 501,615.33 502,614.56 503,613.81 504,613.06 505,612.3 506,611.57 507,610.86 508,610.21 509,609.61 510,609.07 511,608.56 512,608.07 513,607.61 514,607.2 515,606.84 516,606.54 517,606.3 518,606.09 519,605.91 520,605.74 521,605.56 522,605.37 523,605.14 524,604.9 525,604.65 526,604.39 527,604.13 528,603.85 529,603.58 530,603.29 531,602.99 532,602.68 533,602.37 534,602.07 535,601.78 536,601.51 537,601.23 538,600.94 539,600.67 540,600.43 541,600.22 542,600.06 543,599.95 544,599.84 545,599.75 546,599.68 547,599.65 548,599.65 549,599.68 550,599.75 551,599.84 552,599.95 553,600.06 554,600.21 555,600.42 556,600.66 557,600.93 558,601.21 559,601.5 560,601.79 561,602.1 562,602.43 563,602.79 564,603.16 565,603.56 566,603.98 567,604.43 568,604.93 569,605.45 570,606 571,606.58 572,607.17 573,607.78 574,608.42 575,609.09 576,609.79 577,610.51 578,611.24 579,611.98 580,612.73 581,613.51 582,614.31 583,615.12 584,615.93 585,616.74 586,617.54 587,618.33 588,619.12 589,619.92 590,620.71 591,621.51 592,622.3 593,623.1 594,623.93 595,624.76 596,625.58 597,626.38 598,627.14 599,627.85 600,628.51 601,629.15 602,629.77 603,630.36 604,630.92 605,631.45 606,631.96 607,632.44 608,632.9 609,633.35 610,633.77 611,634.17 612,634.55 613,634.91 614,635.24 615,635.57 616,635.87 617,636.17 618,636.47 619,636.77 620,637.05 621,637.33 622,637.59 623,637.86 624,638.14 625,638.43 626,638.72 627,639.03 628,639.35 629,639.67 630,639.99 631,640.32 632,640.65 633,640.98 634,641.33 635,641.68 636,642.03 637,642.37 638,642.69 639,642.99 640,643.29 641,643.6 642,643.9 643,644.2 644,644.49 645,644.76 646,645.02 647,645.26 648,645.48 649,645.66 650,645.82 651,645.94 652,646.05 653,646.14 654,646.23 655,646.33 656,646.43 657,646.54 658,646.66 659,646.77 660,646.87 661,646.95 662,647.01 663,647.06 664,647.1 665,647.15 666,647.19 667,647.23 668,647.26 669,647.29 670,647.32 671,647.35 672,647.36 673,647.38 674,647.39 675,647.39 676,647.39 677,647.38 678,647.36 679,647.34 680,647.32 681,647.3 682,647.28 683,647.26 684,647.24 685,647.22 686,647.2 687,647.19 688,647.19 689,647.51 690,647.69 691,647.69 692,647.69 693,647.69 694,647.69 695,647.69 696,647.69 697,647.69 698,647.69 699,647.69 700,647.69 701,647.69 702,647.69 703,647.69 704,647.69 705,647.69 706,647.69 707,647.69 708,647.69 709,647.69 709.8,647.69 709.8,648.69 709,648.69 708,648.69 707,648.69 706,648.69 705,648.69 704,648.69 703,648.69 702,648.69 701,648.69 700,648.69 699,648.69 698,648.69 697,648.69 696,648.69 695,648.69 694,648.69 693,648.69 692,648.69 691,648.69 690,648.69 689,648.87 688,649.19 687,649.19 686,649.18 685,649.16 684,649.14 683,649.12 682,649.1 681,649.08 680,649.06 679,649.04 678,649.02 677,649 676,648.99 675,648.99 674,648.99 673,649 672,649.02 671,649.03 670,649.06 669,649.09 668,649.12 667,649.15 666,649.19 665,649.23 664,649.28 663,649.32 662,649.37 661,649.43 660,649.51 659,649.61 658,649.72 657,649.84 656,649.95 655,650.05 654,650.15 653,650.24 652,650.33 651,650.44 650,650.56 649,650.72 648,650.9 647,651.12 646,651.36 645,651.62 644,651.89 643,652.18 642,652.48 641,652.78 640,653.09 639,653.39 638,653.69 637,654.01 636,654.35 635,654.7 634,655.05 633,655.4 632,655.73 631,656.06 630,656.39 629,656.71 628,657.03 627,657.35 626,657.66 625,657.95 624,658.24 623,658.52 622,658.79 621,659.05 620,659.33 619,659.61 618,659.91 617,660.21 616,660.51 615,660.81 614,661.14 613,661.47 612,661.83 611,662.21 610,662.61 609,663.03 608,663.48 607,663.94 606,664.42 605,664.93 604,665.46 603,666.02 602,666.61 601,667.23 600,667.87 599,668.53 598,669.24 597,670 596,670.8 595,671.62 594,672.45 593,673.28 592,674.08 591,674.87 590,675.67 589,676.46 588,677.26 587,678.05 586,678.84 585,679.64 584,680.45 583,681.26 582,682.07 581,682.87 580,683.65 579,684.4 578,685.14 577,685.87 576,686.59 575,687.29 574,687.96 573,688.6 572,689.21 571,689.8 570,690.38 569,690.93 568,691.45 567,691.95 566,692.4 565,692.82 564,693.22 563,693.59 562,693.95 561,694.28 560,694.59 559,694.88 558,695.17 557,695.45 556,695.72 555,695.96 554,696.17 553,696.32 552,696.43 551,696.54 550,696.63 549,696.7 548,696.73 547,696.73 546,696.7 545,696.63 544,696.54 543,696.43 542,696.32 541,696.16 540,695.95 539,695.71 538,695.44 537,695.15 536,694.87 535,694.6 534,694.31 533,694.01 532,693.7 531,693.39 530,693.09 529,692.8 528,692.53 527,692.25 526,691.99 525,691.73 524,691.48 523,691.24 522,691.01 521,690.82 520,690.64 519,690.47 518,690.29 517,690.08 516,689.84 515,689.54 514,689.18 513,688.77 512,688.31 511,687.82 510,687.31 509,686.77 508,686.17 507,685.52 506,684.81 505,684.08 504,683.32 503,682.57 502,681.82 501,681.05 500,680.25 499,679.45 498,678.64 497,677.83 496,677.03 495,676.22 494,675.41 493,674.6 492,673.8 491,673.01 490,672.24 489,671.5 488,670.76 487,670.04 486,669.33 485,668.64 484,667.98 483,667.34 482,666.73 481,666.13 480,665.56 479,665 478,664.46 477,663.96 476,663.48 475,663.02 474,662.58 473,662.15 472,661.74 471,661.33 470,660.94 469,660.56 468,660.18 467,659.81 466,659.44 465,659.07 464,658.71 463,658.35 462,657.98 461,657.62 460,657.26 459,656.9 458,656.54 457,656.19 456,655.85 455,655.51 454,655.18 453,654.86 452,654.55 451,654.25 450,653.96 449,653.68 448,653.42 447,653.17 446,652.94 445,652.73 444,652.51 443,652.31 442,652.1 441,651.9 440,651.71 439,651.52 438,651.34 437,651.18 436,651.01 435,650.86 434,650.72 433,650.6 432,650.48 431,650.38 430,650.3 429,650.22 428,650.16 427,650.1 426,650.04 425,649.98 424,649.92 423,649.85 422,649.78 421,649.7 420,649.6 419,649.49 418,649.36 417,649.21 416,648.85 415,648.69 414,648.69 413,648.69 412,648.69 411,648.69 410,648.69 409,648.69 408,648.69 407,648.69 406,648.69 405,648.69 404,648.69 403,648.69 402,648.69 401,648.69 400,648.69 399,648.69 398,648.69 397,648.69 396,648.69 395,648.69 394,648.69 393,648.69 392,648.69 391.2,648.69"/>
<rect x="707" y="158" width="3" height="1"/>
</g>
<rect x="432.2" y="58.3" width="153.7" height="4.5" fill="#F8766D"/>
<rect x="484.3" y="47.2" width="52.1" height="26.7" fill="#F8766D"/>
<rect x="414.3" y="156.24" width="189.4" height="4.5" fill="#F8766D"/>
<rect x="476.2" y="145.14" width="67.5" height="26.7" fill="#F8766D"/>
<rect x="416.1" y="254.18" width="230.9" height="4.5" fill="#F8766D"/>
<rect x="490.3" y="243.08" width="79.1" height="26.7" fill="#F8766D"/>
<rect x="297.8" y="352.12" width="193.8" height="4.5" fill="#00BFC4"/>
<rect x="364" y="341.02" width="65.1" height="26.7" fill="#00BFC4"/>
<rect x="459.1" y="450.06" width="234.8" height="4.5" fill="#F8766D"/>
<rect x="535.9" y="438.96" width="81.1" height="26.7" fill="#00BFC4"/>
<rect x="400.3" y="548" width="179.1" height="4.5" fill="#F8766D"/>
<rect x="458.9" y="536.9" width="60.1" height="26.7" fill="#F8766D"/>
<rect x="457.1" y="645.94" width="173" height="4.5" fill="#F8766D"/>
<rect x="513.1" y="634.84" width="59.1" height="26.7" fill="#00BFC4"/>
<circle cx="510.8" cy="60.55" r="7.1" fill="#000"/>
<circle cx="508.7" cy="158.49" r="7.1" fill="#000"/>
<circle cx="529.2" cy="256.43" r="7.1" fill="#000"/>
<circle cx="395.2" cy="354.37" r="7.1" fill="#000"/>
<circle cx="576.4" cy="452.31" r="7.1" fill="#000"/>
<circle cx="489.5" cy="550.25" r="7.1" fill="#000"/>
<circle cx="543.3" cy="648.19" r="7.1" fill="#000"/>
<line x1="503.9" y1="707.5" x2="503.9" y2="1.9" stroke="#fff" stroke-width="4.45" stroke-dasharray="4.45 13.34"/>
<g stroke="#333333" stroke-width="4.45">
<line x1="302.9" y1="706.7" x2="302.9" y2="718.3"/>
<line x1="503.8" y1="706.7" x2="503.8" y2="718.3"/>
<line x1="704.7" y1="706.7" x2="704.7" y2="718.3"/>
</g>
<text class="ax" x="302.9" y="752.1" text-anchor="middle">-1</text>
<text class="ax" x="503.8" y="752.1" text-anchor="middle">0</text>
<text class="ax" x="704.7" y="752.1" text-anchor="middle">1</text>
<text class="ti" x="504" y="810.3" text-anchor="middle">ER (log-odds)</text>
</g>
<g>
<rect x="856" y="1.9" width="658.8" height="704.8" fill="#7F7F7F"/>
<g stroke="#999999" stroke-width="4.45">
<line x1="856" y1="60.55" x2="1514.8" y2="60.55"/>
<line x1="856" y1="158.49" x2="1514.8" y2="158.49"/>
<line x1="856" y1="256.43" x2="1514.8" y2="256.43"/>
<line x1="856" y1="354.37" x2="1514.8" y2="354.37"/>
<line x1="856" y1="452.31" x2="1514.8" y2="452.31"/>
<line x1="856" y1="550.25" x2="1514.8" y2="550.25"/>
<line x1="856" y1="648.19" x2="1514.8" y2="648.19"/>
</g>
<g fill="#000" shape-rendering="crispEdges">
<polygon points="907.2,60.05 908,60.05 909,60.05 910,60.05 911,60.05 912,60.05 913,60.05 914,60.05 915,60.05 916,60.05 917,60.05 918,60.05 919,60.05 920,60.05 921,60.05 922,60.05 923,60.05 924,60.05 925,60.05 926,60.05 927,60.05 928,60.05 929,60.05 930,60.05 931,60.05 932,60.05 933,60.05 934,60.05 935,60.05 936,60.05 937,60.05 938,60.05 939,60.05 940,60.05 941,60.05 942,60.05 943,60.05 944,60.05 945,60.05 946,60.05 947,60.05 948,60.05 949,60.05 950,60.05 951,60.05 952,60.05 953,60.05 954,60.05 955,60.05 956,60.05 957,60.05 958,60.05 959,60.05 960,60.05 961,60.05 962,60.05 963,60.05 964,60.05 965,60.05 966,60.05 967,60.05 968,60.05 969,60.05 970,60.05 971,60.05 972,60.05 973,60.05 974,60.05 975,60.05 976,59.67 977,59.49 978,59.39 979,59.31 980,59.24 981,59.19 982,59.14 983,59.1 984,59.06 985,59.03 986,59 987,58.97 988,58.94 989,58.9 990,58.85 991,58.8 992,58.74 993,58.67 994,58.59 995,58.51 996,58.42 997,58.32 998,58.22 999,58.12 1000,58.01 1001,57.91 1002,57.79 1003,57.68 1004,57.57 1005,57.46 1006,57.34 1007,57.23 1008,57.11 1009,56.99 1010,56.86 1011,56.74 1012,56.61 1013,56.48 1014,56.34 1015,56.21 1016,56.07 1017,55.93 1018,55.78 1019,55.64 1020,55.48 1021,55.33 1022,55.17 1023,55.01 1024,54.84 1025,54.67 1026,54.5 1027,54.32 1028,54.14 1029,53.96 1030,53.78 1031,53.6 1032,53.42 1033,53.23 1034,53.05 1035,52.87 1036,52.68 1037,52.49 1038,52.3 1039,52.11 1040,51.91 1041,51.71 1042,51.49 1043,51.28 1044,51.05 1045,50.81 1046,50.57 1047,50.31 1048,50.05 1049,49.79 1050,49.51 1051,49.22 1052,48.93 1053,48.63 1054,48.31 1055,47.99 1056,47.66 1057,47.32 1058,46.96 1059,46.6 1060,46.22 1061,45.82 1062,45.39 1063,44.92 1064,44.43 1065,43.92 1066,43.4 1067,42.86 1068,42.32 1069,41.78 1070,41.25 1071,40.72 1072,40.21 1073,39.72 1074,39.25 1075,38.78 1076,38.32 1077,37.86 1078,37.4 1079,36.94 1080,36.49 1081,36.04 1082,35.6 1083,35.16 1084,34.72 1085,34.29 1086,33.87 1087,33.44 1088,33.03 1089,32.62 1090,32.21 1091,31.81 1092,31.42 1093,31.02 1094,30.63 1095,30.24 1096,29.85 1097,29.45 1098,29.06 1099,28.66 1100,28.26 1101,27.86 1102,27.46 1103,27.06 1104,26.66 1105,26.27 1106,25.87 1107,25.47 1108,25.07 1109,24.67 1110,24.27 1111,23.87 1112,23.47 1113,23.07 1114,22.66 1115,22.24 1116,21.82 1117,21.41 1118,21.02 1119,20.66 1120,20.32 1121,19.99 1122,19.68 1123,19.38 1124,19.1 1125,18.82 1126,18.55 1127,18.29 1128,18.05 1129,17.82 1130,17.59 1131,17.35 1132,17.12 1133,16.87 1134,16.6 1135,16.33 1136,16.06 1137,15.8 1138,15.54 1139,15.3 1140,15.08 1141,14.87 1142,14.66 1143,14.46 1144,14.27 1145,14.09 1146,13.91 1147,13.74 1148,13.57 1149,13.41 1150,13.26 1151,13.11 1152,12.96 1153,12.8 1154,12.62 1155,12.43 1156,12.26 1157,12.12 1158,12.03 1159,12 1160,12 1161,12 1162,12 1163,12 1164,12 1165,12 1166,12 1167,12 1168,12 1169,12 1170,12 1171,12 1172,12 1173,12.01 1174,12.05 1175,12.1 1176,12.17 1177,12.26 1178,12.34 1179,12.44 1180,12.56 1181,12.71 1182,12.89 1183,13.09 1184,13.31 1185,13.54 1186,13.8 1187,14.1 1188,14.45 1189,14.82 1190,15.22 1191,15.63 1192,16.05 1193,16.51 1194,17 1195,17.52 1196,18.05 1197,18.57 1198,19.07 1199,19.55 1200,20.03 1201,20.5 1202,20.96 1203,21.42 1204,21.86 1205,22.3 1206,22.72 1207,23.14 1208,23.56 1209,23.96 1210,24.34 1211,24.72 1212,25.07 1213,25.42 1214,25.76 1215,26.09 1216,26.41 1217,26.72 1218,27.01 1219,27.28 1220,27.53 1221,27.76 1222,27.96 1223,28.15 1224,28.34 1225,28.53 1226,28.72 1227,28.94 1228,29.16 1229,29.39 1230,29.63 1231,29.87 1232,30.12 1233,30.38 1234,30.65 1235,30.93 1236,31.21 1237,31.51 1238,31.82 1239,32.14 1240,32.48 1241,32.84 1242,33.22 1243,33.61 1244,34.02 1245,34.44 1246,34.88 1247,35.33 1248,35.81 1249,36.31 1250,36.82 1251,37.33 1252,37.85 1253,38.36 1254,38.86 1255,39.38 1256,39.9 1257,40.41 1258,40.9 1259,41.38 1260,41.82 1261,42.26 1262,42.68 1263,43.09 1264,43.48 1265,43.85 1266,44.21 1267,44.54 1268,44.85 1269,45.15 1270,45.44 1271,45.73 1272,46.01 1273,46.31 1274,46.61 1275,46.91 1276,47.21 1277,47.51 1278,47.81 1279,48.11 1280,48.41 1281,48.72 1282,49.03 1283,49.34 1284,49.64 1285,49.93 1286,50.2 1287,50.46 1288,50.7 1289,50.94 1290,51.17 1291,51.4 1292,51.64 1293,51.89 1294,52.15 1295,52.42 1296,52.69 1297,52.96 1298,53.21 1299,53.45 1300,53.67 1301,53.88 1302,54.07 1303,54.27 1304,54.46 1305,54.65 1306,54.85 1307,55.06 1308,55.27 1309,55.48 1310,55.68 1311,55.88 1312,56.06 1313,56.22 1314,56.37 1315,56.51 1316,56.65 1317,56.78 1318,56.91 1319,57.04 1320,57.17 1321,57.29 1322,57.41 1323,57.53 1324,57.65 1325,57.76 1326,57.87 1327,57.98 1328,58.08 1329,58.19 1330,58.28 1331,58.38 1332,58.46 1333,58.55 1334,58.64 1335,58.73 1336,58.82 1337,58.9 1338,58.99 1339,59.07 1340,59.14 1341,59.21 1342,59.27 1343,59.32 1344,59.36 1345,59.38 1346,59.4 1347,59.41 1348,59.42 1349,59.43 1350,59.43 1351,59.44 1352,59.44 1353,59.44 1354,59.45 1355,59.45 1356,59.45 1357,59.46 1358,59.46 1359,59.47 1360,59.48 1361,59.49 1362,59.5 1363,59.51 1364,59.53 1365,59.55 1366,59.95 1367,60.05 1368,60.05 1369,60.05 1370,60.05 1371,60.05 1372,60.05 1373,60.05 1374,60.05 1375,60.05 1376,60.05 1377,60.05 1378,60.05 1379,60.05 1380,60.05 1381,60.05 1382,60.05 1383,60.05 1384,60.05 1385,60.05 1386,60.05 1387,60.05 1388,60.05 1389,60.05 1390,60.05 1391,60.05 1392,60.05 1393,60.05 1394,60.05 1395,60.05 1396,60.05 1397,60.05 1398,60.05 1399,60.05 1400,60.05 1401,60.05 1402,60.05 1403,60.05 1403.8,60.05 1403.8,61.05 1403,61.05 1402,61.05 1401,61.05 1400,61.05 1399,61.05 1398,61.05 1397,61.05 1396,61.05 1395,61.05 1394,61.05 1393,61.05 1392,61.05 1391,61.05 1390,61.05 1389,61.05 1388,61.05 1387,61.05 1386,61.05 1385,61.05 1384,61.05 1383,61.05 1382,61.05 1381,61.05 1380,61.05 1379,61.05 1378,61.05 1377,61.05 1376,61.05 1375,61.05 1374,61.05 1373,61.05 1372,61.05 1371,61.05 1370,61.05 1369,61.05 1368,61.05 1367,61.05 1366,61.15 1365,61.55 1364,61.57 1363,61.59 1362,61.6 1361,61.61 1360,61.62 1359,61.63 1358,61.64 1357,61.64 1356,61.65 1355,61.65 1354,61.65 1353,61.66 1352,61.66 1351,61.66 1350,61.67 1349,61.67 1348,61.68 1347,61.69 1346,61.7 1345,61.72 1344,61.74 1343,61.78 1342,61.83 1341,61.89 1340,61.96 1339,62.03 1338,62.11 1337,62.2 1336,62.28 1335,62.37 1334,62.46 1333,62.55 1332,62.64 1331,62.72 1330,62.82 1329,62.91 1328,63.02 1327,63.12 1326,63.23 1325,63.34 1324,63.45 1323,63.57 1322,63.69 1321,63.81 1320,63.93 1319,64.06 1318,64.19 1317,64.32 1316,64.45 1315,64.59 1314,64.73 1313,64.88 1312,65.04 1311,65.22 1310,65.42 1309,65.62 1308,65.83 1307,66.04 1306,66.25 1305,66.45 1304,66.64 1303,66.83 1302,67.03 1301,67.22 1300,67.43 1299,67.65 1298,67.89 1297,68.14 1296,68.41 1295,68.68 1294,68.95 1293,69.21 1292,69.46 1291,69.7 1290,69.93 1289,70.16 1288,70.4 1287,70.64 1286,70.9 1285,71.17 1284,71.46 1283,71.76 1282,72.07 1281,72.38 1280,72.69 1279,72.99 1278,73.29 1277,73.59 1276,73.89 1275,74.19 1274,74.49 1273,74.79 1272,75.09 1271,75.37 1270,75.66 1269,75.95 1268,76.25 1267,76.56 1266,76.89 1265,77.25 1264,77.62 1263,78.01 1262,78.42 1261,78.84 1260,79.28 1259,79.72 1258,80.2 1257,80.69 1256,81.2 1255,81.72 1254,82.24 1253,82.74 1252,83.25 1251,83.77 1250,84.28 1249,84.79 1248,85.29 1247,85.77 1246,86.22 1245,86.66 1244,87.08 1243,87.49 1242,87.88 1241,88.26 1240,88.62 1239,88.96 1238,89.28 1237,89.59 1236,89.89 1235,90.17 1234,90.45 1233,90.72 1232,90.98 1231,91.23 1230,91.47 1229,91.71 1228,91.94 1227,92.16 1226,92.38 1225,92.57 1224,92.76 1223,92.95 1222,93.14 1221,93.34 1220,93.57 1219,93.82 1218,94.09 1217,94.38 1216,94.69 1215,95.01 1214,95.34 1213,95.68 1212,96.03 1211,96.38 1210,96.76 1209,97.14 1208,97.54 1207,97.96 1206,98.38 1205,98.8 1204,99.24 1203,99.68 1202,100.14 1201,100.6 1200,101.07 1199,101.55 1198,102.03 1197,102.53 1196,103.05 1195,103.58 1194,104.1 1193,104.59 1192,105.05 1191,105.47 1190,105.88 1189,106.28 1188,106.65 1187,107 1186,107.3 1185,107.56 1184,107.79 1183,108.01 1182,108.21 1181,108.39 1180,108.54 1179,108.66 1178,108.76 1177,108.84 1176,108.93 1175,109 1174,109.05 1173,109.09 1172,109.1 1171,109.1 1170,109.1 1169,109.1 1168,109.1 1167,109.1 1166,109.1 1165,109.1 1164,109.1 1163,109.1 1162,109.1 1161,109.1 1160,109.1 1159,109.1 1158,109.07 1157,108.98 1156,108.84 1155,108.67 1154,108.48 1153,108.3 1152,108.14 1151,107.99 1150,107.84 1149,107.69 1148,107.53 1147,107.36 1146,107.19 1145,107.01 1144,106.83 1143,106.64 1142,106.44 1141,106.23 1140,106.02 1139,105.8 1138,105.56 1137,105.3 1136,105.04 1135,104.77 1134,104.5 1133,104.23 1132,103.98 1131,103.75 1130,103.51 1129,103.28 1128,103.05 1127,102.81 1126,102.55 1125,102.28 1124,102 1123,101.72 1122,101.42 1121,101.11 1120,100.78 1119,100.44 1118,100.08 1117,99.69 1116,99.28 1115,98.86 1114,98.44 1113,98.03 1112,97.63 1111,97.23 1110,96.83 1109,96.43 1108,96.03 1107,95.63 1106,95.23 1105,94.83 1104,94.44 1103,94.04 1102,93.64 1101,93.24 1100,92.84 1099,92.44 1098,92.04 1097,91.65 1096,91.25 1095,90.86 1094,90.47 1093,90.08 1092,89.68 1091,89.29 1090,88.89 1089,88.48 1088,88.07 1087,87.66 1086,87.23 1085,86.81 1084,86.38 1083,85.94 1082,85.5 1081,85.06 1080,84.61 1079,84.16 1078,83.7 1077,83.24 1076,82.78 1075,82.32 1074,81.85 1073,81.38 1072,80.89 1071,80.38 1070,79.85 1069,79.32 1068,78.78 1067,78.24 1066,77.7 1065,77.18 1064,76.67 1063,76.18 1062,75.71 1061,75.28 1060,74.88 1059,74.5 1058,74.14 1057,73.78 1056,73.44 1055,73.11 1054,72.79 1053,72.47 1052,72.17 1051,71.88 1050,71.59 1049,71.31 1048,71.05 1047,70.79 1046,70.53 1045,70.29 1044,70.05 1043,69.82 1042,69.61 1041,69.39 1040,69.19 1039,68.99 1038,68.8 1037,68.61 1036,68.42 1035,68.23 1034,68.05 1033,67.87 1032,67.68 1031,67.5 1030,67.32 1029,67.14 1028,66.96 1027,66.78 1026,66.6 1025,66.43 1024,66.26 1023,66.09 1022,65.93 1021,65.77 1020,65.62 1019,65.46 1018,65.32 1017,65.17 1016,65.03 1015,64.89 1014,64.76 1013,64.62 1012,64.49 1011,64.36 1010,64.24 1009,64.11 1008,63.99 1007,63.87 1006,63.76 1005,63.64 1004,63.53 1003,63.42 1002,63.31 1001,63.19 1000,63.09 999,62.98 998,62.88 997,62.78 996,62.68 995,62.59 994,62.51 993,62.43 992,62.36 991,62.3 990,62.25 989,62.2 988,62.16 987,62.13 986,62.1 985,62.07 984,62.04 983,62 982,61.96 981,61.91 980,61.86 979,61.79 978,61.71 977,61.61 976,61.43 975,61.05 974,61.05 973,61.05 972,61.05 971,61.05 970,61.05 969,61.05 968,61.05 967,61.05 966,61.05 965,61.05 964,61.05 963,61.05 962,61.05 961,61.05 960,61.05 959,61.05 958,61.05 957,61.05 956,61.05 955,61.05 954,61.05 953,61.05 952,61.05 951,61.05 950,61.05 949,61.05 948,61.05 947,61.05 946,61.05 945,61.05 944,61.05 943,61.05 942,61.05 941,61.05 940,61.05 939,61.05 938,61.05 937,61.05 936,61.05 935,61.05 934,61.05 933,61.05 932,61.05 931,61.05 930,61.05 929,61.05 928,61.05 927,61.05 926,61.05 925,61.05 924,61.05 923,61.05 922,61.05 921,61.05 920,61.05 919,61.05 918,61.05 917,61.05 916,61.05 915,61.05 914,61.05 913,61.05 912,61.05 911,61.05 910,61.05 909,61.05 908,61.05 907.2,61.05"/>
<polygon points="856,157.99 856,157.99 857,157.99 858,157.99 859,157.99 860,157.99 861,157.99 862,157.99 863,157.99 864,157.99 865,157.99 866,157.99 867,157.99 868,157.99 869,157.99 870,157.99 871,157.99 872,157.99 873,157.99 874,157.99 875,157.99 876,157.99 877,157.99 878,157.99 879,157.99 880,157.99 881,157.99 882,157.99 883,157.99 884,157.99 885,157.99 886,157.99 887,157.99 888,157.99 889,157.99 890,157.99 891,157.99 892,157.99 893,157.99 894,157.99 895,157.99 896,157.99 897,157.99 898,157.77 899,157.46 900,157.33 901,157.23 902,157.15 903,157.09 904,157.03 905,156.98 906,156.93 907,156.88 908,156.82 909,156.75 910,156.66 911,156.58 912,156.49 913,156.4 914,156.31 915,156.21 916,156.11 917,156.01 918,155.91 919,155.8 920,155.69 921,155.58 922,155.46 923,155.34 924,155.22 925,155.08 926,154.95 927,154.81 928,154.66 929,154.51 930,154.36 931,154.2 932,154.04 933,153.88 934,153.71 935,153.54 936,153.37 937,153.19 938,153.01 939,152.82 940,152.62 941,152.4 942,152.17 943,151.91 944,151.62 945,151.31 946,150.97 947,150.61 948,150.24 949,149.86 950,149.47 951,149.09 952,148.71 953,148.33 954,147.97 955,147.63 956,147.31 957,147 958,146.7 959,146.41 960,146.12 961,145.84 962,145.55 963,145.27 964,144.98 965,144.68 966,144.38 967,144.07 968,143.74 969,143.4 970,143.04 971,142.68 972,142.3 973,141.91 974,141.51 975,141.11 976,140.7 977,140.28 978,139.86 979,139.44 980,139.02 981,138.59 982,138.17 983,137.74 984,137.29 985,136.84 986,136.38 987,135.92 988,135.45 989,134.98 990,134.52 991,134.06 992,133.61 993,133.17 994,132.73 995,132.31 996,131.93 997,131.57 998,131.21 999,130.82 1000,130.37 1001,129.81 1002,129.14 1003,128.41 1004,127.64 1005,126.88 1006,126.15 1007,125.49 1008,124.85 1009,124.23 1010,123.62 1011,123.03 1012,122.45 1013,121.9 1014,121.35 1015,120.81 1016,120.28 1017,119.77 1018,119.28 1019,118.83 1020,118.41 1021,118.03 1022,117.68 1023,117.34 1024,117.02 1025,116.7 1026,116.38 1027,116.05 1028,115.73 1029,115.41 1030,115.1 1031,114.78 1032,114.46 1033,114.14 1034,113.8 1035,113.44 1036,113.08 1037,112.73 1038,112.39 1039,112.07 1040,111.78 1041,111.49 1042,111.2 1043,110.93 1044,110.68 1045,110.49 1046,110.35 1047,110.25 1048,110.16 1049,110.09 1050,110.02 1051,109.97 1052,109.95 1053,109.94 1054,109.95 1055,109.98 1056,110.02 1057,110.07 1058,110.12 1059,110.18 1060,110.27 1061,110.4 1062,110.58 1063,110.8 1064,111.04 1065,111.3 1066,111.55 1067,111.84 1068,112.17 1069,112.53 1070,112.91 1071,113.31 1072,113.71 1073,114.11 1074,114.52 1075,114.95 1076,115.38 1077,115.84 1078,116.3 1079,116.77 1080,117.25 1081,117.74 1082,118.25 1083,118.77 1084,119.3 1085,119.86 1086,120.43 1087,121.05 1088,121.71 1089,122.38 1090,123.05 1091,123.7 1092,124.31 1093,124.87 1094,125.43 1095,125.97 1096,126.5 1097,127.01 1098,127.49 1099,127.96 1100,128.39 1101,128.79 1102,129.15 1103,129.5 1104,129.83 1105,130.17 1106,130.54 1107,130.93 1108,131.32 1109,131.73 1110,132.14 1111,132.59 1112,133.06 1113,133.57 1114,134.13 1115,134.77 1116,135.46 1117,136.19 1118,136.94 1119,137.7 1120,138.45 1121,139.26 1122,140.1 1123,140.97 1124,141.82 1125,142.61 1126,143.32 1127,143.94 1128,144.52 1129,145.06 1130,145.57 1131,146.04 1132,146.47 1133,146.86 1134,147.22 1135,147.54 1136,147.84 1137,148.12 1138,148.4 1139,148.67 1140,148.95 1141,149.23 1142,149.5 1143,149.76 1144,150.02 1145,150.27 1146,150.5 1147,150.72 1148,150.93 1149,151.12 1150,151.31 1151,151.5 1152,151.7 1153,151.91 1154,152.14 1155,152.38 1156,152.62 1157,152.87 1158,153.12 1159,153.36 1160,153.6 1161,153.85 1162,154.09 1163,154.34 1164,154.58 1165,154.81 1166,155.04 1167,155.26 1168,155.48 1169,155.69 1170,155.89 1171,156.08 1172,156.26 1173,156.41 1174,156.56 1175,156.71 1176,156.85 1177,156.96 1178,157.06 1179,157.12 1180,157.15 1181,157.18 1182,157.21 1183,157.23 1184,157.24 1185,157.25 1186,157.26 1187,157.27 1188,157.28 1189,157.29 1190,157.3 1191,157.32 1192,157.34 1193,157.36 1194,157.39 1195,157.43 1196,157.48 1197,157.78 1198,157.99 1199,157.99 1200,157.99 1201,157.99 1202,157.99 1203,157.99 1204,157.99 1205,157.99 1206,157.99 1207,157.99 1208,157.99 1209,157.99 1210,157.99 1211,157.99 1212,157.99 1213,157.99 1214,157.99 1215,157.99 1216,157.99 1217,157.99 1218,157.99 1219,157.99 1220,157.99 1221,157.99 1222,157.99 1223,157.99 1224,157.99 1225,157.99 1226,157.99 1227,157.99 1228,157.99 1229,157.99 1230,157.99 1231,157.99 1232,157.99 1233,157.99 1234,157.99 1235,157.99 1236,157.99 1237,157.99 1238,157.99 1239,157.99 1240,157.99 1241,157.99 1241.6,157.99 1241.6,158.99 1241,158.99 1240,158.99 1239,158.99 1238,158.99 1237,158.99 1236,158.99 1235,158.99 1234,158.99 1233,158.99 1232,158.99 1231,158.99 1230,158.99 1229,158.99 1228,158.99 1227,158.99 1226,158.99 1225,158.99 1224,158.99 1223,158.99 1222,158.99 1221,158.99 1220,158.99 1219,158.99 1218,158.99 1217,158.99 1216,158.99 1215,158.99 1214,158.99 1213,158.99 1212,158.99 1211,158.99 1210,158.99 1209,158.99 1208,158.99 1207,158.99 1206,158.99 1205,158.99 1204,158.99 1203,158.99 1202,158.99 1201,158.99 1200,158.99 1199,158.99 1198,158.99 1197,159.2 1196,159.5 1195,159.55 1194,159.59 1193,159.62 1192,159.64 1191,159.66 1190,159.68 1189,159.69 1188,159.7 1187,159.71 1186,159.72 1185,159.73 1184,159.74 1183,159.75 1182,159.77 1181,159.8 1180,159.83 1179,159.86 1178,159.92 1177,160.02 1176,160.13 1175,160.27 1174,160.42 1173,160.57 1172,160.72 1171,160.9 1170,161.09 1169,161.29 1168,161.5 1167,161.72 1166,161.94 1165,162.17 1164,162.4 1163,162.64 1162,162.89 1161,163.13 1160,163.38 1159,163.62 1158,163.86 1157,164.11 1156,164.36 1155,164.6 1154,164.84 1153,165.07 1152,165.28 1151,165.48 1150,165.67 1149,165.86 1148,166.05 1147,166.26 1146,166.48 1145,166.71 1144,166.96 1143,167.22 1142,167.48 1141,167.75 1140,168.03 1139,168.31 1138,168.58 1137,168.86 1136,169.14 1135,169.44 1134,169.76 1133,170.12 1132,170.51 1131,170.94 1130,171.41 1129,171.92 1128,172.46 1127,173.04 1126,173.66 1125,174.37 1124,175.16 1123,176.01 1122,176.88 1121,177.72 1120,178.53 1119,179.28 1118,180.04 1117,180.79 1116,181.52 1115,182.21 1114,182.85 1113,183.41 1112,183.92 1111,184.39 1110,184.84 1109,185.25 1108,185.66 1107,186.05 1106,186.44 1105,186.81 1104,187.15 1103,187.48 1102,187.83 1101,188.19 1100,188.59 1099,189.02 1098,189.49 1097,189.97 1096,190.48 1095,191.01 1094,191.55 1093,192.11 1092,192.67 1091,193.28 1090,193.93 1089,194.6 1088,195.27 1087,195.93 1086,196.55 1085,197.12 1084,197.68 1083,198.21 1082,198.73 1081,199.24 1080,199.73 1079,200.21 1078,200.68 1077,201.14 1076,201.6 1075,202.03 1074,202.46 1073,202.87 1072,203.27 1071,203.67 1070,204.07 1069,204.45 1068,204.81 1067,205.14 1066,205.43 1065,205.68 1064,205.94 1063,206.18 1062,206.4 1061,206.58 1060,206.71 1059,206.8 1058,206.86 1057,206.91 1056,206.96 1055,207 1054,207.03 1053,207.04 1052,207.03 1051,207.01 1050,206.96 1049,206.89 1048,206.82 1047,206.73 1046,206.63 1045,206.49 1044,206.3 1043,206.05 1042,205.78 1041,205.49 1040,205.2 1039,204.91 1038,204.59 1037,204.25 1036,203.9 1035,203.54 1034,203.18 1033,202.84 1032,202.52 1031,202.2 1030,201.88 1029,201.57 1028,201.25 1027,200.93 1026,200.6 1025,200.28 1024,199.96 1023,199.64 1022,199.3 1021,198.95 1020,198.57 1019,198.15 1018,197.7 1017,197.21 1016,196.7 1015,196.17 1014,195.63 1013,195.08 1012,194.53 1011,193.95 1010,193.36 1009,192.75 1008,192.13 1007,191.49 1006,190.83 1005,190.1 1004,189.34 1003,188.57 1002,187.84 1001,187.17 1000,186.61 999,186.16 998,185.77 997,185.41 996,185.05 995,184.67 994,184.25 993,183.81 992,183.37 991,182.92 990,182.46 989,182 988,181.53 987,181.06 986,180.6 985,180.14 984,179.69 983,179.24 982,178.81 981,178.39 980,177.96 979,177.54 978,177.12 977,176.7 976,176.28 975,175.87 974,175.47 973,175.07 972,174.68 971,174.3 970,173.94 969,173.58 968,173.24 967,172.91 966,172.6 965,172.3 964,172 963,171.71 962,171.43 961,171.14 960,170.86 959,170.57 958,170.28 957,169.98 956,169.67 955,169.35 954,169.01 953,168.65 952,168.27 951,167.89 950,167.51 949,167.12 948,166.74 947,166.37 946,166.01 945,165.67 944,165.36 943,165.07 942,164.81 941,164.58 940,164.36 939,164.16 938,163.97 937,163.79 936,163.61 935,163.44 934,163.27 933,163.1 932,162.94 931,162.78 930,162.62 929,162.47 928,162.32 927,162.17 926,162.03 925,161.9 924,161.76 923,161.64 922,161.52 921,161.4 920,161.29 919,161.18 918,161.07 917,160.97 916,160.87 915,160.77 914,160.67 913,160.58 912,160.49 911,160.4 910,160.32 909,160.23 908,160.16 907,160.1 906,160.05 905,160 904,159.95 903,159.89 902,159.83 901,159.75 900,159.65 899,159.52 898,159.21 897,158.99 896,158.99 895,158.99 894,158.99 893,158.99 892,158.99 891,158.99 890,158.99 889,158.99 888,158.99 887,158.99 886,158.99 885,158.99 884,158.99 883,158.99 882,158.99 881,158.99 880,158.99 879,158.99 878,158.99 877,158.99 876,158.99 875,158.99 874,158.99 873,158.99 872,158.99 871,158.99 870,158.99 869,158.99 868,158.99 867,158.99 866,158.99 865,158.99 864,158.99 863,158.99 862,158.99 861,158.99 860,158.99 859,158.99 858,158.99 857,158.99 856,158.99 856,158.99"/>
<polygon points="1012.1,255.93 1013,255.93 1014,255.93 1015,255.93 1016,255.93 1017,255.93 1018,255.93 1019,255.93 1020,255.93 1021,255.93 1022,255.93 1023,255.93 1024,255.93 1025,255.93 1026,255.93 1027,255.93 1028,255.93 1029,255.93 1030,255.93 1031,255.93 1032,255.93 1033,255.93 1034,255.93 1035,255.93 1036,255.93 1037,255.93 1038,255.93 1039,255.93 1040,255.93 1041,255.93 1042,255.93 1043,255.93 1044,255.93 1045,255.93 1046,255.93 1047,255.93 1048,255.93 1049,255.93 1050,255.93 1051,255.93 1052,255.93 1053,255.93 1054,255.93 1055,255.93 1056,255.93 1057,255.93 1058,255.9 1059,255.49 1060,255.38 1061,255.31 1062,255.26 1063,255.21 1064,255.17 1065,255.14 1066,255.11 1067,255.09 1068,255.07 1069,255.05 1070,255.04 1071,255.02 1072,255.01 1073,254.99 1074,254.98 1075,254.96 1076,254.94 1077,254.92 1078,254.89 1079,254.85 1080,254.81 1081,254.76 1082,254.7 1083,254.6 1084,254.46 1085,254.29 1086,254.08 1087,253.87 1088,253.64 1089,253.41 1090,253.18 1091,252.97 1092,252.78 1093,252.62 1094,252.46 1095,252.31 1096,252.16 1097,252.02 1098,251.87 1099,251.73 1100,251.59 1101,251.45 1102,251.3 1103,251.15 1104,251 1105,250.83 1106,250.66 1107,250.49 1108,250.32 1109,250.15 1110,249.97 1111,249.79 1112,249.6 1113,249.41 1114,249.21 1115,248.99 1116,248.77 1117,248.53 1118,248.28 1119,248.01 1120,247.71 1121,247.38 1122,247.03 1123,246.65 1124,246.25 1125,245.83 1126,245.39 1127,244.94 1128,244.47 1129,243.99 1130,243.51 1131,242.98 1132,242.41 1133,241.8 1134,241.17 1135,240.53 1136,239.91 1137,239.3 1138,238.69 1139,238.09 1140,237.48 1141,236.88 1142,236.28 1143,235.69 1144,235.12 1145,234.55 1146,234 1147,233.45 1148,232.9 1149,232.33 1150,231.76 1151,231.16 1152,230.55 1153,229.94 1154,229.33 1155,228.73 1156,228.14 1157,227.57 1158,227.03 1159,226.49 1160,225.97 1161,225.44 1162,224.9 1163,224.34 1164,223.75 1165,223.14 1166,222.52 1167,221.9 1168,221.29 1169,220.71 1170,220.16 1171,219.62 1172,219.1 1173,218.59 1174,218.1 1175,217.62 1176,217.17 1177,216.73 1178,216.3 1179,215.88 1180,215.48 1181,215.09 1182,214.72 1183,214.38 1184,214.05 1185,213.73 1186,213.43 1187,213.14 1188,212.86 1189,212.58 1190,212.3 1191,212.02 1192,211.75 1193,211.49 1194,211.23 1195,210.99 1196,210.75 1197,210.53 1198,210.32 1199,210.11 1200,209.91 1201,209.72 1202,209.54 1203,209.38 1204,209.22 1205,209.07 1206,208.93 1207,208.79 1208,208.67 1209,208.55 1210,208.42 1211,208.29 1212,208.16 1213,208.04 1214,207.95 1215,207.89 1216,207.88 1217,207.88 1218,207.88 1219,207.88 1220,207.88 1221,207.88 1222,207.88 1223,207.88 1224,207.88 1225,207.88 1226,207.88 1227,207.88 1228,207.88 1229,207.88 1230,207.88 1231,207.88 1232,207.9 1233,207.91 1234,207.94 1235,207.97 1236,208.01 1237,208.06 1238,208.11 1239,208.17 1240,208.24 1241,208.32 1242,208.52 1243,208.82 1244,209.19 1245,209.61 1246,210.04 1247,210.47 1248,210.89 1249,211.36 1250,211.87 1251,212.4 1252,212.93 1253,213.45 1254,213.96 1255,214.46 1256,214.95 1257,215.44 1258,215.94 1259,216.44 1260,216.96 1261,217.49 1262,218.04 1263,218.61 1264,219.18 1265,219.75 1266,220.32 1267,220.87 1268,221.42 1269,221.96 1270,222.5 1271,223.04 1272,223.58 1273,224.12 1274,224.65 1275,225.19 1276,225.72 1277,226.25 1278,226.79 1279,227.34 1280,227.9 1281,228.48 1282,229.08 1283,229.69 1284,230.3 1285,230.91 1286,231.51 1287,232.1 1288,232.67 1289,233.25 1290,233.81 1291,234.37 1292,234.92 1293,235.46 1294,235.99 1295,236.52 1296,237.03 1297,237.54 1298,238.04 1299,238.51 1300,238.96 1301,239.4 1302,239.83 1303,240.24 1304,240.64 1305,241.02 1306,241.38 1307,241.72 1308,242.03 1309,242.33 1310,242.61 1311,242.9 1312,243.19 1313,243.51 1314,243.84 1315,244.2 1316,244.57 1317,244.94 1318,245.31 1319,245.67 1320,246.02 1321,246.37 1322,246.72 1323,247.07 1324,247.41 1325,247.74 1326,248.07 1327,248.39 1328,248.7 1329,249.01 1330,249.32 1331,249.61 1332,249.89 1333,250.17 1334,250.43 1335,250.68 1336,250.92 1337,251.16 1338,251.39 1339,251.61 1340,251.83 1341,252.04 1342,252.25 1343,252.45 1344,252.65 1345,252.84 1346,253.02 1347,253.19 1348,253.36 1349,253.52 1350,253.68 1351,253.83 1352,253.98 1353,254.13 1354,254.3 1355,254.46 1356,254.62 1357,254.77 1358,254.89 1359,254.98 1360,255.04 1361,255.08 1362,255.11 1363,255.13 1364,255.16 1365,255.17 1366,255.19 1367,255.22 1368,255.25 1369,255.3 1370,255.36 1371,255.43 1372,255.82 1373,255.93 1374,255.93 1375,255.93 1376,255.93 1377,255.93 1378,255.93 1379,255.93 1380,255.93 1381,255.93 1382,255.93 1383,255.93 1384,255.93 1385,255.93 1386,255.93 1387,255.93 1388,255.93 1389,255.93 1390,255.93 1391,255.93 1392,255.93 1393,255.93 1394,255.93 1395,255.93 1396,255.93 1397,255.93 1398,255.93 1399,255.93 1400,255.93 1401,255.93 1402,255.93 1403,255.93 1404,255.93 1405,255.93 1406,255.93 1407,255.93 1408,255.93 1409,255.93 1410,255.93 1411,255.93 1412,255.93 1413,255.93 1413.8,255.93 1413.8,256.93 1413,256.93 1412,256.93 1411,256.93 1410,256.93 1409,256.93 1408,256.93 1407,256.93 1406,256.93 1405,256.93 1404,256.93 1403,256.93 1402,256.93 1401,256.93 1400,256.93 1399,256.93 1398,256.93 1397,256.93 1396,256.93 1395,256.93 1394,256.93 1393,256.93 1392,256.93 1391,256.93 1390,256.93 1389,256.93 1388,256.93 1387,256.93 1386,256.93 1385,256.93 1384,256.93 1383,256.93 1382,256.93 1381,256.93 1380,256.93 1379,256.93 1378,256.93 1377,256.93 1376,256.93 1375,256.93 1374,256.93 1373,256.93 1372,257.04 1371,257.43 1370,257.5 1369,257.56 1368,257.61 1367,257.64 1366,257.67 1365,257.69 1364,257.7 1363,257.73 1362,257.75 1361,257.78 1360,257.82 1359,257.88 1358,257.97 1357,258.09 1356,258.24 1355,258.4 1354,258.56 1353,258.73 1352,258.88 1351,259.03 1350,259.18 1349,259.34 1348,259.5 1347,259.67 1346,259.84 1345,260.02 1344,260.21 1343,260.41 1342,260.61 1341,260.82 1340,261.03 1339,261.25 1338,261.47 1337,261.7 1336,261.94 1335,262.18 1334,262.43 1333,262.69 1332,262.97 1331,263.25 1330,263.54 1329,263.85 1328,264.16 1327,264.47 1326,264.79 1325,265.12 1324,265.45 1323,265.79 1322,266.14 1321,266.49 1320,266.84 1319,267.19 1318,267.55 1317,267.92 1316,268.29 1315,268.66 1314,269.02 1313,269.35 1312,269.67 1311,269.96 1310,270.25 1309,270.53 1308,270.83 1307,271.14 1306,271.48 1305,271.84 1304,272.22 1303,272.62 1302,273.03 1301,273.46 1300,273.9 1299,274.35 1298,274.82 1297,275.32 1296,275.83 1295,276.34 1294,276.87 1293,277.4 1292,277.94 1291,278.49 1290,279.05 1289,279.61 1288,280.19 1287,280.76 1286,281.35 1285,281.95 1284,282.56 1283,283.17 1282,283.78 1281,284.38 1280,284.96 1279,285.52 1278,286.07 1277,286.61 1276,287.14 1275,287.67 1274,288.21 1273,288.74 1272,289.28 1271,289.82 1270,290.36 1269,290.9 1268,291.44 1267,291.99 1266,292.54 1265,293.11 1264,293.68 1263,294.25 1262,294.82 1261,295.37 1260,295.9 1259,296.42 1258,296.92 1257,297.42 1256,297.91 1255,298.4 1254,298.9 1253,299.41 1252,299.93 1251,300.46 1250,300.99 1249,301.5 1248,301.97 1247,302.39 1246,302.82 1245,303.25 1244,303.67 1243,304.04 1242,304.34 1241,304.54 1240,304.62 1239,304.69 1238,304.75 1237,304.8 1236,304.85 1235,304.89 1234,304.92 1233,304.95 1232,304.96 1231,304.98 1230,304.98 1229,304.98 1228,304.98 1227,304.98 1226,304.98 1225,304.98 1224,304.98 1223,304.98 1222,304.98 1221,304.98 1220,304.98 1219,304.98 1218,304.98 1217,304.98 1216,304.98 1215,304.97 1214,304.91 1213,304.82 1212,304.7 1211,304.57 1210,304.44 1209,304.31 1208,304.19 1207,304.07 1206,303.93 1205,303.79 1204,303.64 1203,303.48 1202,303.32 1201,303.14 1200,302.95 1199,302.75 1198,302.54 1197,302.33 1196,302.11 1195,301.87 1194,301.63 1193,301.37 1192,301.11 1191,300.84 1190,300.56 1189,300.28 1188,300 1187,299.72 1186,299.43 1185,299.13 1184,298.81 1183,298.48 1182,298.14 1181,297.77 1180,297.38 1179,296.98 1178,296.56 1177,296.13 1176,295.69 1175,295.24 1174,294.76 1173,294.27 1172,293.76 1171,293.24 1170,292.7 1169,292.15 1168,291.57 1167,290.96 1166,290.34 1165,289.72 1164,289.11 1163,288.52 1162,287.96 1161,287.42 1160,286.89 1159,286.37 1158,285.83 1157,285.29 1156,284.72 1155,284.13 1154,283.53 1153,282.92 1152,282.31 1151,281.7 1150,281.1 1149,280.53 1148,279.96 1147,279.41 1146,278.86 1145,278.31 1144,277.74 1143,277.17 1142,276.58 1141,275.98 1140,275.38 1139,274.77 1138,274.17 1137,273.56 1136,272.95 1135,272.33 1134,271.69 1133,271.06 1132,270.45 1131,269.88 1130,269.35 1129,268.87 1128,268.39 1127,267.92 1126,267.47 1125,267.03 1124,266.61 1123,266.21 1122,265.83 1121,265.48 1120,265.15 1119,264.85 1118,264.58 1117,264.33 1116,264.09 1115,263.87 1114,263.65 1113,263.45 1112,263.26 1111,263.07 1110,262.89 1109,262.71 1108,262.54 1107,262.37 1106,262.2 1105,262.03 1104,261.86 1103,261.71 1102,261.56 1101,261.41 1100,261.27 1099,261.13 1098,260.99 1097,260.84 1096,260.7 1095,260.55 1094,260.4 1093,260.24 1092,260.08 1091,259.89 1090,259.68 1089,259.45 1088,259.22 1087,258.99 1086,258.78 1085,258.57 1084,258.4 1083,258.26 1082,258.16 1081,258.1 1080,258.05 1079,258.01 1078,257.97 1077,257.94 1076,257.92 1075,257.9 1074,257.88 1073,257.87 1072,257.85 1071,257.84 1070,257.82 1069,257.81 1068,257.79 1067,257.77 1066,257.75 1065,257.72 1064,257.69 1063,257.65 1062,257.6 1061,257.55 1060,257.48 1059,257.37 1058,256.96 1057,256.93 1056,256.93 1055,256.93 1054,256.93 1053,256.93 1052,256.93 1051,256.93 1050,256.93 1049,256.93 1048,256.93 1047,256.93 1046,256.93 1045,256.93 1044,256.93 1043,256.93 1042,256.93 1041,256.93 1040,256.93 1039,256.93 1038,256.93 1037,256.93 1036,256.93 1035,256.93 1034,256.93 1033,256.93 1032,256.93 1031,256.93 1030,256.93 1029,256.93 1028,256.93 1027,256.93 1026,256.93 1025,256.93 1024,256.93 1023,256.93 1022,256.93 1021,256.93 1020,256.93 1019,256.93 1018,256.93 1017,256.93 1016,256.93 1015,256.93 1014,256.93 1013,256.93 1012.1,256.93"/>
<polygon points="1059,353.87 1059,353.87 1060,353.87 1061,353.87 1062,353.87 1063,353.87 1064,353.87 1065,353.87 1066,353.87 1067,353.87 1068,353.87 1069,353.87 1070,353.87 1071,353.87 1072,353.87 1073,353.87 1074,353.87 1075,353.87 1076,353.87 1077,353.87 1078,353.87 1079,353.87 1080,353.87 1081,353.87 1082,353.87 1083,353.87 1084,353.87 1085,353.87 1086,353.87 1087,353.87 1088,353.87 1089,353.87 1090,353.87 1091,353.87 1092,353.87 1093,353.53 1094,353.29 1095,353.16 1096,353.05 1097,352.95 1098,352.88 1099,352.81 1100,352.75 1101,352.69 1102,352.63 1103,352.56 1104,352.48 1105,352.39 1106,352.28 1107,352.15 1108,352.02 1109,351.89 1110,351.74 1111,351.59 1112,351.43 1113,351.27 1114,351.1 1115,350.93 1116,350.77 1117,350.59 1118,350.42 1119,350.23 1120,350.05 1121,349.86 1122,349.66 1123,349.46 1124,349.26 1125,349.05 1126,348.84 1127,348.63 1128,348.41 1129,348.19 1130,347.97 1131,347.75 1132,347.54 1133,347.32 1134,347.09 1135,346.86 1136,346.63 1137,346.38 1138,346.13 1139,345.87 1140,345.59 1141,345.3 1142,344.99 1143,344.67 1144,344.31 1145,343.93 1146,343.52 1147,343.08 1148,342.63 1149,342.15 1150,341.66 1151,341.14 1152,340.57 1153,339.96 1154,339.33 1155,338.66 1156,337.98 1157,337.29 1158,336.6 1159,335.9 1160,335.22 1161,334.55 1162,333.91 1163,333.3 1164,332.71 1165,332.12 1166,331.54 1167,330.97 1168,330.4 1169,329.84 1170,329.29 1171,328.75 1172,328.22 1173,327.69 1174,327.18 1175,326.68 1176,326.19 1177,325.71 1178,325.25 1179,324.8 1180,324.36 1181,323.94 1182,323.53 1183,323.13 1184,322.75 1185,322.39 1186,322.05 1187,321.71 1188,321.36 1189,321 1190,320.63 1191,320.26 1192,319.88 1193,319.49 1194,319.09 1195,318.68 1196,318.25 1197,317.81 1198,317.35 1199,316.87 1200,316.38 1201,315.87 1202,315.33 1203,314.77 1204,314.15 1205,313.48 1206,312.78 1207,312.08 1208,311.42 1209,310.8 1210,310.25 1211,309.7 1212,309.16 1213,308.65 1214,308.19 1215,307.79 1216,307.48 1217,307.21 1218,306.97 1219,306.74 1220,306.55 1221,306.39 1222,306.26 1223,306.16 1224,306.07 1225,305.99 1226,305.92 1227,305.87 1228,305.83 1229,305.82 1230,305.85 1231,305.95 1232,306.09 1233,306.26 1234,306.44 1235,306.62 1236,306.79 1237,306.97 1238,307.15 1239,307.35 1240,307.55 1241,307.77 1242,307.99 1243,308.21 1244,308.44 1245,308.68 1246,308.93 1247,309.2 1248,309.48 1249,309.79 1250,310.12 1251,310.47 1252,310.86 1253,311.26 1254,311.69 1255,312.15 1256,312.63 1257,313.16 1258,313.74 1259,314.34 1260,314.97 1261,315.61 1262,316.25 1263,316.92 1264,317.61 1265,318.32 1266,319.04 1267,319.75 1268,320.43 1269,321.08 1270,321.69 1271,322.29 1272,322.88 1273,323.46 1274,324.04 1275,324.62 1276,325.22 1277,325.83 1278,326.44 1279,327.05 1280,327.64 1281,328.21 1282,328.76 1283,329.28 1284,329.78 1285,330.26 1286,330.74 1287,331.22 1288,331.71 1289,332.23 1290,332.77 1291,333.32 1292,333.87 1293,334.41 1294,334.94 1295,335.44 1296,335.93 1297,336.4 1298,336.86 1299,337.31 1300,337.75 1301,338.19 1302,338.61 1303,339.02 1304,339.41 1305,339.81 1306,340.19 1307,340.58 1308,340.97 1309,341.37 1310,341.77 1311,342.18 1312,342.58 1313,342.98 1314,343.36 1315,343.73 1316,344.08 1317,344.43 1318,344.76 1319,345.09 1320,345.42 1321,345.74 1322,346.07 1323,346.4 1324,346.73 1325,347.06 1326,347.38 1327,347.68 1328,347.96 1329,348.22 1330,348.47 1331,348.71 1332,348.95 1333,349.17 1334,349.39 1335,349.6 1336,349.79 1337,349.96 1338,350.13 1339,350.29 1340,350.46 1341,350.62 1342,350.8 1343,350.99 1344,351.2 1345,351.44 1346,351.77 1347,352.18 1348,352.54 1349,352.75 1350,352.83 1351,352.9 1352,352.94 1353,352.98 1354,353.01 1355,353.03 1356,353.05 1357,353.08 1358,353.11 1359,353.15 1360,353.2 1361,353.27 1362,353.36 1363,353.7 1364,353.87 1365,353.87 1366,353.87 1367,353.87 1368,353.87 1369,353.87 1370,353.87 1371,353.87 1372,353.87 1373,353.87 1374,353.87 1375,353.87 1376,353.87 1377,353.87 1378,353.87 1379,353.87 1380,353.87 1381,353.87 1382,353.87 1383,353.87 1384,353.87 1385,353.87 1386,353.87 1387,353.87 1388,353.87 1389,353.87 1390,353.87 1391,353.87 1392,353.87 1393,353.87 1394,353.87 1395,353.87 1396,353.87 1397,353.87 1398,353.87 1399,353.87 1400,353.87 1401,353.87 1402,353.87 1403,353.87 1404,353.87 1405,353.87 1406,353.87 1407,353.87 1408,353.87 1409,353.87 1409.8,353.87 1409.8,354.87 1409,354.87 1408,354.87 1407,354.87 1406,354.87 1405,354.87 1404,354.87 1403,354.87 1402,354.87 1401,354.87 1400,354.87 1399,354.87 1398,354.87 1397,354.87 1396,354.87 1395,354.87 1394,354.87 1393,354.87 1392,354.87 1391,354.87 1390,354.87 1389,354.87 1388,354.87 1387,354.87 1386,354.87 1385,354.87 1384,354.87 1383,354.87 1382,354.87 1381,354.87 1380,354.87 1379,354.87 1378,354.87 1377,354.87 1376,354.87 1375,354.87 1374,354.87 1373,354.87 1372,354.87 1371,354.87 1370,354.87 1369,354.87 1368,354.87 1367,354.87 1366,354.87 1365,354.87 1364,354.87 1363,355.04 1362,355.38 1361,355.47 1360,355.54 1359,355.59 1358,355.63 1357,355.66 1356,355.69 1355,355.71 1354,355.73 1353,355.76 1352,355.8 1351,355.84 1350,355.91 1349,355.99 1348,356.2 1347,356.56 1346,356.97 1345,357.3 1344,357.54 1343,357.75 1342,357.94 1341,358.12 1340,358.28 1339,358.45 1338,358.61 1337,358.78 1336,358.95 1335,359.14 1334,359.35 1333,359.57 1332,359.79 1331,360.03 1330,360.27 1329,360.52 1328,360.78 1327,361.06 1326,361.36 1325,361.68 1324,362.01 1323,362.34 1322,362.67 1321,363 1320,363.32 1319,363.65 1318,363.98 1317,364.31 1316,364.66 1315,365.01 1314,365.38 1313,365.76 1312,366.16 1311,366.56 1310,366.97 1309,367.37 1308,367.77 1307,368.16 1306,368.55 1305,368.93 1304,369.33 1303,369.72 1302,370.13 1301,370.55 1300,370.99 1299,371.43 1298,371.88 1297,372.34 1296,372.81 1295,373.3 1294,373.8 1293,374.33 1292,374.87 1291,375.42 1290,375.97 1289,376.51 1288,377.03 1287,377.52 1286,378 1285,378.48 1284,378.96 1283,379.46 1282,379.98 1281,380.53 1280,381.1 1279,381.69 1278,382.3 1277,382.91 1276,383.52 1275,384.12 1274,384.7 1273,385.28 1272,385.86 1271,386.45 1270,387.05 1269,387.66 1268,388.31 1267,388.99 1266,389.7 1265,390.42 1264,391.13 1263,391.82 1262,392.49 1261,393.13 1260,393.77 1259,394.4 1258,395 1257,395.58 1256,396.11 1255,396.59 1254,397.05 1253,397.48 1252,397.88 1251,398.27 1250,398.62 1249,398.95 1248,399.26 1247,399.54 1246,399.81 1245,400.06 1244,400.3 1243,400.53 1242,400.75 1241,400.97 1240,401.19 1239,401.39 1238,401.59 1237,401.77 1236,401.95 1235,402.12 1234,402.3 1233,402.48 1232,402.65 1231,402.79 1230,402.89 1229,402.92 1228,402.91 1227,402.87 1226,402.82 1225,402.75 1224,402.67 1223,402.58 1222,402.48 1221,402.35 1220,402.19 1219,402 1218,401.77 1217,401.53 1216,401.26 1215,400.95 1214,400.55 1213,400.09 1212,399.58 1211,399.04 1210,398.49 1209,397.94 1208,397.32 1207,396.66 1206,395.96 1205,395.26 1204,394.59 1203,393.97 1202,393.41 1201,392.87 1200,392.36 1199,391.87 1198,391.39 1197,390.93 1196,390.49 1195,390.06 1194,389.65 1193,389.25 1192,388.86 1191,388.48 1190,388.11 1189,387.74 1188,387.38 1187,387.03 1186,386.69 1185,386.35 1184,385.99 1183,385.61 1182,385.21 1181,384.8 1180,384.38 1179,383.94 1178,383.49 1177,383.03 1176,382.55 1175,382.06 1174,381.56 1173,381.05 1172,380.52 1171,379.99 1170,379.45 1169,378.9 1168,378.34 1167,377.77 1166,377.2 1165,376.62 1164,376.03 1163,375.44 1162,374.83 1161,374.19 1160,373.52 1159,372.84 1158,372.14 1157,371.45 1156,370.76 1155,370.08 1154,369.41 1153,368.78 1152,368.17 1151,367.6 1150,367.08 1149,366.59 1148,366.11 1147,365.66 1146,365.22 1145,364.81 1144,364.43 1143,364.07 1142,363.75 1141,363.44 1140,363.15 1139,362.87 1138,362.61 1137,362.36 1136,362.11 1135,361.88 1134,361.65 1133,361.42 1132,361.2 1131,360.99 1130,360.77 1129,360.55 1128,360.33 1127,360.11 1126,359.9 1125,359.69 1124,359.48 1123,359.28 1122,359.08 1121,358.88 1120,358.69 1119,358.51 1118,358.32 1117,358.15 1116,357.97 1115,357.81 1114,357.64 1113,357.47 1112,357.31 1111,357.15 1110,357 1109,356.85 1108,356.72 1107,356.59 1106,356.46 1105,356.35 1104,356.26 1103,356.18 1102,356.11 1101,356.05 1100,355.99 1099,355.93 1098,355.86 1097,355.79 1096,355.69 1095,355.58 1094,355.45 1093,355.21 1092,354.87 1091,354.87 1090,354.87 1089,354.87 1088,354.87 1087,354.87 1086,354.87 1085,354.87 1084,354.87 1083,354.87 1082,354.87 1081,354.87 1080,354.87 1079,354.87 1078,354.87 1077,354.87 1076,354.87 1075,354.87 1074,354.87 1073,354.87 1072,354.87 1071,354.87 1070,354.87 1069,354.87 1068,354.87 1067,354.87 1066,354.87 1065,354.87 1064,354.87 1063,354.87 1062,354.87 1061,354.87 1060,354.87 1059,354.87 1059,354.87"/>
<polygon points="1079,451.81 1079,451.81 1080,451.81 1081,451.81 1082,451.81 1083,451.81 1084,451.81 1085,451.81 1086,451.81 1087,451.81 1088,451.81 1089,451.81 1090,451.81 1091,451.81 1092,451.81 1093,451.81 1094,451.81 1095,451.81 1096,451.81 1097,451.81 1098,451.81 1099,451.81 1100,451.81 1101,451.81 1102,451.81 1103,451.81 1104,451.81 1105,451.81 1106,451.81 1107,451.81 1108,451.81 1109,451.46 1110,451.29 1111,451.24 1112,451.2 1113,451.17 1114,451.14 1115,451.11 1116,451.09 1117,451.07 1118,451.05 1119,451.04 1120,451.03 1121,451.01 1122,451.01 1123,451 1124,450.99 1125,450.98 1126,450.98 1127,450.97 1128,450.96 1129,450.96 1130,450.95 1131,450.94 1132,450.93 1133,450.91 1134,450.9 1135,450.88 1136,450.86 1137,450.83 1138,450.8 1139,450.77 1140,450.73 1141,450.67 1142,450.56 1143,450.43 1144,450.28 1145,450.11 1146,449.94 1147,449.77 1148,449.6 1149,449.44 1150,449.3 1151,449.16 1152,449.01 1153,448.87 1154,448.73 1155,448.59 1156,448.45 1157,448.3 1158,448.15 1159,448 1160,447.84 1161,447.68 1162,447.52 1163,447.35 1164,447.17 1165,447 1166,446.81 1167,446.63 1168,446.44 1169,446.25 1170,446.05 1171,445.84 1172,445.63 1173,445.42 1174,445.19 1175,444.96 1176,444.72 1177,444.48 1178,444.23 1179,443.97 1180,443.7 1181,443.43 1182,443.14 1183,442.84 1184,442.53 1185,442.21 1186,441.88 1187,441.53 1188,441.17 1189,440.79 1190,440.37 1191,439.93 1192,439.45 1193,438.95 1194,438.42 1195,437.88 1196,437.33 1197,436.77 1198,436.2 1199,435.64 1200,435.08 1201,434.52 1202,433.95 1203,433.37 1204,432.77 1205,432.16 1206,431.54 1207,430.9 1208,430.22 1209,429.51 1210,428.8 1211,428.08 1212,427.38 1213,426.71 1214,426.08 1215,425.46 1216,424.85 1217,424.26 1218,423.68 1219,423.11 1220,422.55 1221,422 1222,421.46 1223,420.94 1224,420.41 1225,419.88 1226,419.35 1227,418.8 1228,418.25 1229,417.69 1230,417.13 1231,416.57 1232,416.02 1233,415.47 1234,414.93 1235,414.39 1236,413.85 1237,413.32 1238,412.79 1239,412.26 1240,411.73 1241,411.2 1242,410.66 1243,410.13 1244,409.61 1245,409.11 1246,408.64 1247,408.19 1248,407.75 1249,407.33 1250,406.92 1251,406.54 1252,406.2 1253,405.89 1254,405.6 1255,405.32 1256,405.06 1257,404.83 1258,404.63 1259,404.45 1260,404.31 1261,404.17 1262,404.04 1263,403.93 1264,403.84 1265,403.78 1266,403.76 1267,403.78 1268,403.81 1269,403.87 1270,403.94 1271,404.02 1272,404.11 1273,404.21 1274,404.37 1275,404.57 1276,404.8 1277,405.03 1278,405.26 1279,405.45 1280,405.61 1281,405.77 1282,405.91 1283,406.05 1284,406.19 1285,406.33 1286,406.46 1287,406.6 1288,406.73 1289,406.87 1290,407.02 1291,407.17 1292,407.31 1293,407.45 1294,407.6 1295,407.76 1296,407.95 1297,408.16 1298,408.43 1299,408.75 1300,409.1 1301,409.47 1302,409.85 1303,410.22 1304,410.59 1305,410.97 1306,411.36 1307,411.75 1308,412.16 1309,412.57 1310,413 1311,413.43 1312,413.88 1313,414.34 1314,414.8 1315,415.27 1316,415.73 1317,416.2 1318,416.67 1319,417.13 1320,417.61 1321,418.08 1322,418.57 1323,419.06 1324,419.55 1325,420.05 1326,420.56 1327,421.07 1328,421.6 1329,422.13 1330,422.69 1331,423.28 1332,423.89 1333,424.51 1334,425.13 1335,425.72 1336,426.28 1337,426.79 1338,427.29 1339,427.76 1340,428.23 1341,428.69 1342,429.14 1343,429.61 1344,430.07 1345,430.53 1346,430.98 1347,431.43 1348,431.88 1349,432.34 1350,432.8 1351,433.26 1352,433.73 1353,434.19 1354,434.65 1355,435.09 1356,435.52 1357,435.94 1358,436.34 1359,436.73 1360,437.12 1361,437.51 1362,437.9 1363,438.3 1364,438.7 1365,439.11 1366,439.51 1367,439.91 1368,440.3 1369,440.67 1370,441.03 1371,441.38 1372,441.72 1373,442.06 1374,442.39 1375,442.71 1376,443.02 1377,443.33 1378,443.63 1379,443.92 1380,444.21 1381,444.51 1382,444.8 1383,445.1 1384,445.4 1385,445.71 1386,446.01 1387,446.31 1388,446.6 1389,446.88 1390,447.15 1391,447.42 1392,447.69 1393,447.95 1394,448.19 1395,448.43 1396,448.65 1397,448.87 1398,449.08 1399,449.28 1400,449.48 1401,449.66 1402,449.83 1403,449.99 1404,450.16 1405,450.32 1406,450.46 1407,450.59 1408,450.69 1409,450.77 1410,450.82 1411,450.87 1412,450.9 1413,450.93 1414,450.96 1415,450.98 1416,451 1417,451.03 1418,451.07 1419,451.11 1420,451.17 1421,451.24 1422,451.36 1423,451.78 1424,451.81 1425,451.81 1426,451.81 1427,451.81 1428,451.81 1429,451.81 1430,451.81 1431,451.81 1432,451.81 1433,451.81 1434,451.81 1435,451.81 1436,451.81 1437,451.81 1438,451.81 1439,451.81 1440,451.81 1441,451.81 1442,451.81 1443,451.81 1444,451.81 1445,451.81 1446,451.81 1447,451.81 1448,451.81 1449,451.81 1450,451.81 1451,451.81 1452,451.81 1453,451.81 1454,451.81 1455,451.81 1456,451.81 1457,451.81 1458,451.81 1459,451.81 1460,451.81 1461,451.81 1462,451.81 1463,451.81 1464,451.81 1465,451.81 1465.2,451.81 1465.2,452.81 1465,452.81 1464,452.81 1463,452.81 1462,452.81 1461,452.81 1460,452.81 1459,452.81 1458,452.81 1457,452.81 1456,452.81 1455,452.81 1454,452.81 1453,452.81 1452,452.81 1451,452.81 1450,452.81 1449,452.81 1448,452.81 1447,452.81 1446,452.81 1445,452.81 1444,452.81 1443,452.81 1442,452.81 1441,452.81 1440,452.81 1439,452.81 1438,452.81 1437,452.81 1436,452.81 1435,452.81 1434,452.81 1433,452.81 1432,452.81 1431,452.81 1430,452.81 1429,452.81 1428,452.81 1427,452.81 1426,452.81 1425,452.81 1424,452.81 1423,452.84 1422,453.26 1421,453.38 1420,453.45 1419,453.51 1418,453.55 1417,453.59 1416,453.62 1415,453.64 1414,453.66 1413,453.69 1412,453.72 1411,453.75 1410,453.8 1409,453.85 1408,453.93 1407,454.03 1406,454.16 1405,454.3 1404,454.46 1403,454.63 1402,454.79 1401,454.96 1400,455.14 1399,455.34 1398,455.54 1397,455.75 1396,455.97 1395,456.19 1394,456.43 1393,456.67 1392,456.93 1391,457.2 1390,457.47 1389,457.74 1388,458.02 1387,458.31 1386,458.61 1385,458.91 1384,459.22 1383,459.52 1382,459.82 1381,460.11 1380,460.41 1379,460.7 1378,460.99 1377,461.29 1376,461.6 1375,461.91 1374,462.23 1373,462.56 1372,462.9 1371,463.24 1370,463.59 1369,463.95 1368,464.32 1367,464.71 1366,465.11 1365,465.51 1364,465.92 1363,466.32 1362,466.72 1361,467.11 1360,467.5 1359,467.89 1358,468.28 1357,468.68 1356,469.1 1355,469.53 1354,469.97 1353,470.43 1352,470.89 1351,471.36 1350,471.82 1349,472.28 1348,472.74 1347,473.19 1346,473.64 1345,474.09 1344,474.55 1343,475.01 1342,475.48 1341,475.93 1340,476.39 1339,476.86 1338,477.33 1337,477.83 1336,478.34 1335,478.9 1334,479.49 1333,480.11 1332,480.73 1331,481.34 1330,481.93 1329,482.49 1328,483.02 1327,483.55 1326,484.06 1325,484.57 1324,485.07 1323,485.56 1322,486.05 1321,486.54 1320,487.01 1319,487.49 1318,487.95 1317,488.42 1316,488.89 1315,489.35 1314,489.82 1313,490.28 1312,490.74 1311,491.19 1310,491.62 1309,492.05 1308,492.46 1307,492.87 1306,493.26 1305,493.65 1304,494.03 1303,494.4 1302,494.77 1301,495.15 1300,495.52 1299,495.87 1298,496.19 1297,496.46 1296,496.67 1295,496.86 1294,497.02 1293,497.17 1292,497.31 1291,497.45 1290,497.6 1289,497.75 1288,497.89 1287,498.02 1286,498.16 1285,498.29 1284,498.43 1283,498.57 1282,498.71 1281,498.85 1280,499.01 1279,499.17 1278,499.36 1277,499.59 1276,499.82 1275,500.05 1274,500.25 1273,500.41 1272,500.51 1271,500.6 1270,500.68 1269,500.75 1268,500.81 1267,500.84 1266,500.86 1265,500.84 1264,500.78 1263,500.69 1262,500.58 1261,500.45 1260,500.31 1259,500.17 1258,499.99 1257,499.79 1256,499.56 1255,499.3 1254,499.02 1253,498.73 1252,498.42 1251,498.08 1250,497.7 1249,497.29 1248,496.87 1247,496.43 1246,495.98 1245,495.51 1244,495.01 1243,494.49 1242,493.96 1241,493.42 1240,492.89 1239,492.36 1238,491.83 1237,491.3 1236,490.77 1235,490.23 1234,489.69 1233,489.15 1232,488.6 1231,488.05 1230,487.49 1229,486.93 1228,486.37 1227,485.82 1226,485.27 1225,484.74 1224,484.21 1223,483.68 1222,483.16 1221,482.62 1220,482.07 1219,481.51 1218,480.94 1217,480.36 1216,479.77 1215,479.16 1214,478.54 1213,477.91 1212,477.24 1211,476.54 1210,475.82 1209,475.11 1208,474.4 1207,473.72 1206,473.08 1205,472.46 1204,471.85 1203,471.25 1202,470.67 1201,470.1 1200,469.54 1199,468.98 1198,468.42 1197,467.85 1196,467.29 1195,466.74 1194,466.2 1193,465.67 1192,465.17 1191,464.69 1190,464.25 1189,463.83 1188,463.45 1187,463.09 1186,462.74 1185,462.41 1184,462.09 1183,461.78 1182,461.48 1181,461.19 1180,460.92 1179,460.65 1178,460.39 1177,460.14 1176,459.9 1175,459.66 1174,459.43 1173,459.2 1172,458.99 1171,458.78 1170,458.57 1169,458.37 1168,458.18 1167,457.99 1166,457.81 1165,457.62 1164,457.45 1163,457.27 1162,457.1 1161,456.94 1160,456.78 1159,456.62 1158,456.47 1157,456.32 1156,456.17 1155,456.03 1154,455.89 1153,455.75 1152,455.61 1151,455.46 1150,455.32 1149,455.18 1148,455.02 1147,454.85 1146,454.68 1145,454.51 1144,454.34 1143,454.19 1142,454.06 1141,453.95 1140,453.89 1139,453.85 1138,453.82 1137,453.79 1136,453.76 1135,453.74 1134,453.72 1133,453.71 1132,453.69 1131,453.68 1130,453.67 1129,453.66 1128,453.66 1127,453.65 1126,453.64 1125,453.64 1124,453.63 1123,453.62 1122,453.61 1121,453.61 1120,453.59 1119,453.58 1118,453.57 1117,453.55 1116,453.53 1115,453.51 1114,453.48 1113,453.45 1112,453.42 1111,453.38 1110,453.33 1109,453.16 1108,452.81 1107,452.81 1106,452.81 1105,452.81 1104,452.81 1103,452.81 1102,452.81 1101,452.81 1100,452.81 1099,452.81 1098,452.81 1097,452.81 1096,452.81 1095,452.81 1094,452.81 1093,452.81 1092,452.81 1091,452.81 1090,452.81 1089,452.81 1088,452.81 1087,452.81 1086,452.81 1085,452.81 1084,452.81 1083,452.81 1082,452.81 1081,452.81 1080,452.81 1079,452.81 1079,452.81"/>
<polygon points="1027.9,549.75 1028,549.75 1029,549.75 1030,549.75 1031,549.75 1032,549.75 1033,549.75 1034,549.75 1035,549.75 1036,549.75 1037,549.75 1038,549.75 1039,549.75 1040,549.75 1041,549.75 1042,549.75 1043,549.75 1044,549.75 1045,549.75 1046,549.75 1047,549.75 1048,549.75 1049,549.75 1050,549.75 1051,549.75 1052,549.75 1053,549.75 1054,549.75 1055,549.75 1056,549.75 1057,549.75 1058,549.75 1059,549.75 1060,549.75 1061,549.75 1062,549.75 1063,549.75 1064,549.75 1065,549.75 1066,549.75 1067,549.75 1068,549.75 1069,549.75 1070,549.75 1071,549.75 1072,549.75 1073,549.65 1074,549.25 1075,549.09 1076,548.95 1077,548.83 1078,548.73 1079,548.64 1080,548.56 1081,548.49 1082,548.41 1083,548.34 1084,548.26 1085,548.17 1086,548.07 1087,547.96 1088,547.85 1089,547.74 1090,547.63 1091,547.52 1092,547.4 1093,547.28 1094,547.16 1095,547.04 1096,546.92 1097,546.79 1098,546.66 1099,546.52 1100,546.39 1101,546.24 1102,546.1 1103,545.95 1104,545.8 1105,545.64 1106,545.48 1107,545.32 1108,545.16 1109,544.99 1110,544.82 1111,544.64 1112,544.47 1113,544.29 1114,544.11 1115,543.92 1116,543.73 1117,543.53 1118,543.32 1119,543.1 1120,542.86 1121,542.6 1122,542.31 1123,542 1124,541.68 1125,541.34 1126,540.98 1127,540.62 1128,540.25 1129,539.87 1130,539.49 1131,539.1 1132,538.72 1133,538.35 1134,537.98 1135,537.62 1136,537.25 1137,536.89 1138,536.52 1139,536.15 1140,535.77 1141,535.38 1142,534.99 1143,534.57 1144,534.14 1145,533.7 1146,533.23 1147,532.73 1148,532.19 1149,531.61 1150,531.01 1151,530.38 1152,529.74 1153,529.1 1154,528.44 1155,527.76 1156,527.06 1157,526.35 1158,525.64 1159,524.93 1160,524.23 1161,523.52 1162,522.8 1163,522.08 1164,521.37 1165,520.7 1166,520.06 1167,519.45 1168,518.84 1169,518.25 1170,517.69 1171,517.18 1172,516.73 1173,516.36 1174,516.05 1175,515.78 1176,515.54 1177,515.31 1178,515.08 1179,514.84 1180,514.58 1181,514.34 1182,514.09 1183,513.84 1184,513.58 1185,513.32 1186,513.03 1187,512.73 1188,512.42 1189,512.09 1190,511.75 1191,511.4 1192,511.02 1193,510.63 1194,510.2 1195,509.74 1196,509.26 1197,508.78 1198,508.31 1199,507.86 1200,507.44 1201,507.03 1202,506.62 1203,506.23 1204,505.84 1205,505.46 1206,505.09 1207,504.71 1208,504.33 1209,503.95 1210,503.61 1211,503.3 1212,503.05 1213,502.86 1214,502.7 1215,502.55 1216,502.42 1217,502.3 1218,502.18 1219,502.07 1220,501.94 1221,501.82 1222,501.72 1223,501.7 1224,501.73 1225,501.79 1226,501.88 1227,501.98 1228,502.09 1229,502.21 1230,502.38 1231,502.57 1232,502.79 1233,503.02 1234,503.25 1235,503.49 1236,503.73 1237,503.99 1238,504.27 1239,504.56 1240,504.85 1241,505.16 1242,505.48 1243,505.81 1244,506.16 1245,506.52 1246,506.89 1247,507.27 1248,507.66 1249,508.06 1250,508.47 1251,508.9 1252,509.34 1253,509.79 1254,510.27 1255,510.76 1256,511.27 1257,511.8 1258,512.36 1259,512.93 1260,513.52 1261,514.13 1262,514.77 1263,515.45 1264,516.16 1265,516.88 1266,517.6 1267,518.3 1268,518.98 1269,519.66 1270,520.34 1271,521.01 1272,521.66 1273,522.3 1274,522.91 1275,523.49 1276,524.05 1277,524.59 1278,525.11 1279,525.63 1280,526.15 1281,526.66 1282,527.17 1283,527.68 1284,528.18 1285,528.68 1286,529.17 1287,529.64 1288,530.1 1289,530.55 1290,530.98 1291,531.41 1292,531.83 1293,532.26 1294,532.71 1295,533.16 1296,533.62 1297,534.09 1298,534.56 1299,535.01 1300,535.46 1301,535.88 1302,536.29 1303,536.69 1304,537.08 1305,537.47 1306,537.86 1307,538.25 1308,538.65 1309,539.05 1310,539.46 1311,539.86 1312,540.26 1313,540.64 1314,541.02 1315,541.38 1316,541.74 1317,542.09 1318,542.44 1319,542.78 1320,543.12 1321,543.46 1322,543.8 1323,544.14 1324,544.46 1325,544.77 1326,545.06 1327,545.33 1328,545.6 1329,545.86 1330,546.11 1331,546.34 1332,546.57 1333,546.79 1334,547 1335,547.21 1336,547.41 1337,547.59 1338,547.77 1339,547.93 1340,548.1 1341,548.26 1342,548.42 1343,548.55 1344,548.66 1345,548.74 1346,548.8 1347,548.84 1348,548.88 1349,548.9 1350,548.93 1351,548.95 1352,548.97 1353,548.99 1354,549.02 1355,549.05 1356,549.1 1357,549.16 1358,549.24 1359,549.59 1360,549.75 1361,549.75 1362,549.75 1363,549.75 1364,549.75 1365,549.75 1366,549.75 1367,549.75 1368,549.75 1369,549.75 1370,549.75 1371,549.75 1372,549.75 1373,549.75 1374,549.75 1375,549.75 1376,549.75 1377,549.75 1378,549.75 1379,549.75 1380,549.75 1381,549.75 1382,549.75 1383,549.75 1384,549.75 1385,549.75 1386,549.75 1387,549.75 1388,549.75 1389,549.75 1390,549.75 1391,549.75 1391,549.75 1391,550.75 1391,550.75 1390,550.75 1389,550.75 1388,550.75 1387,550.75 1386,550.75 1385,550.75 1384,550.75 1383,550.75 1382,550.75 1381,550.75 1380,550.75 1379,550.75 1378,550.75 1377,550.75 1376,550.75 1375,550.75 1374,550.75 1373,550.75 1372,550.75 1371,550.75 1370,550.75 1369,550.75 1368,550.75 1367,550.75 1366,550.75 1365,550.75 1364,550.75 1363,550.75 1362,550.75 1361,550.75 1360,550.75 1359,550.91 1358,551.26 1357,551.34 1356,551.4 1355,551.45 1354,551.48 1353,551.51 1352,551.53 1351,551.55 1350,551.57 1349,551.6 1348,551.62 1347,551.66 1346,551.7 1345,551.76 1344,551.84 1343,551.95 1342,552.08 1341,552.24 1340,552.4 1339,552.57 1338,552.73 1337,552.91 1336,553.09 1335,553.29 1334,553.5 1333,553.71 1332,553.93 1331,554.16 1330,554.39 1329,554.64 1328,554.9 1327,555.17 1326,555.44 1325,555.73 1324,556.04 1323,556.36 1322,556.7 1321,557.04 1320,557.38 1319,557.72 1318,558.06 1317,558.41 1316,558.76 1315,559.12 1314,559.48 1313,559.86 1312,560.24 1311,560.64 1310,561.04 1309,561.45 1308,561.85 1307,562.25 1306,562.64 1305,563.03 1304,563.42 1303,563.81 1302,564.21 1301,564.62 1300,565.04 1299,565.49 1298,565.94 1297,566.41 1296,566.88 1295,567.34 1294,567.79 1293,568.24 1292,568.67 1291,569.09 1290,569.52 1289,569.95 1288,570.4 1287,570.86 1286,571.33 1285,571.82 1284,572.32 1283,572.82 1282,573.33 1281,573.84 1280,574.35 1279,574.87 1278,575.39 1277,575.91 1276,576.45 1275,577.01 1274,577.59 1273,578.2 1272,578.84 1271,579.49 1270,580.16 1269,580.84 1268,581.52 1267,582.2 1266,582.9 1265,583.62 1264,584.34 1263,585.05 1262,585.73 1261,586.37 1260,586.98 1259,587.57 1258,588.14 1257,588.7 1256,589.23 1255,589.74 1254,590.23 1253,590.71 1252,591.16 1251,591.6 1250,592.03 1249,592.44 1248,592.84 1247,593.23 1246,593.61 1245,593.98 1244,594.34 1243,594.69 1242,595.02 1241,595.34 1240,595.65 1239,595.94 1238,596.23 1237,596.51 1236,596.77 1235,597.01 1234,597.25 1233,597.48 1232,597.71 1231,597.93 1230,598.12 1229,598.29 1228,598.41 1227,598.52 1226,598.62 1225,598.71 1224,598.77 1223,598.8 1222,598.78 1221,598.68 1220,598.56 1219,598.43 1218,598.32 1217,598.2 1216,598.08 1215,597.95 1214,597.8 1213,597.64 1212,597.45 1211,597.2 1210,596.89 1209,596.55 1208,596.17 1207,595.79 1206,595.41 1205,595.04 1204,594.66 1203,594.27 1202,593.88 1201,593.47 1200,593.06 1199,592.64 1198,592.19 1197,591.72 1196,591.24 1195,590.76 1194,590.3 1193,589.87 1192,589.48 1191,589.1 1190,588.75 1189,588.41 1188,588.08 1187,587.77 1186,587.47 1185,587.18 1184,586.92 1183,586.66 1182,586.41 1181,586.16 1180,585.92 1179,585.66 1178,585.42 1177,585.19 1176,584.96 1175,584.72 1174,584.45 1173,584.14 1172,583.77 1171,583.32 1170,582.81 1169,582.25 1168,581.66 1167,581.05 1166,580.44 1165,579.8 1164,579.13 1163,578.42 1162,577.7 1161,576.98 1160,576.27 1159,575.57 1158,574.86 1157,574.15 1156,573.44 1155,572.74 1154,572.06 1153,571.4 1152,570.76 1151,570.12 1150,569.49 1149,568.89 1148,568.31 1147,567.77 1146,567.27 1145,566.8 1144,566.36 1143,565.93 1142,565.51 1141,565.12 1140,564.73 1139,564.35 1138,563.98 1137,563.61 1136,563.25 1135,562.88 1134,562.52 1133,562.15 1132,561.78 1131,561.4 1130,561.01 1129,560.63 1128,560.25 1127,559.88 1126,559.52 1125,559.16 1124,558.82 1123,558.5 1122,558.19 1121,557.9 1120,557.64 1119,557.4 1118,557.18 1117,556.97 1116,556.77 1115,556.58 1114,556.39 1113,556.21 1112,556.03 1111,555.86 1110,555.68 1109,555.51 1108,555.34 1107,555.18 1106,555.02 1105,554.86 1104,554.7 1103,554.55 1102,554.4 1101,554.26 1100,554.11 1099,553.98 1098,553.84 1097,553.71 1096,553.58 1095,553.46 1094,553.34 1093,553.22 1092,553.1 1091,552.98 1090,552.87 1089,552.76 1088,552.65 1087,552.54 1086,552.43 1085,552.33 1084,552.24 1083,552.16 1082,552.09 1081,552.01 1080,551.94 1079,551.86 1078,551.77 1077,551.67 1076,551.55 1075,551.41 1074,551.25 1073,550.85 1072,550.75 1071,550.75 1070,550.75 1069,550.75 1068,550.75 1067,550.75 1066,550.75 1065,550.75 1064,550.75 1063,550.75 1062,550.75 1061,550.75 1060,550.75 1059,550.75 1058,550.75 1057,550.75 1056,550.75 1055,550.75 1054,550.75 1053,550.75 1052,550.75 1051,550.75 1050,550.75 1049,550.75 1048,550.75 1047,550.75 1046,550.75 1045,550.75 1044,550.75 1043,550.75 1042,550.75 1041,550.75 1040,550.75 1039,550.75 1038,550.75 1037,550.75 1036,550.75 1035,550.75 1034,550.75 1033,550.75 1032,550.75 1031,550.75 1030,550.75 1029,550.75 1028,550.75 1027.9,550.75"/>
<polygon points="1101.2,647.69 1102,647.69 1103,647.69 1104,647.69 1105,647.69 1106,647.69 1107,647.69 1108,647.69 1109,647.69 1110,647.69 1111,647.69 1112,647.69 1113,647.69 1114,647.69 1115,647.69 1116,647.69 1117,647.69 1118,647.69 1119,647.69 1120,647.69 1121,647.69 1122,647.55 1123,647.18 1124,647.03 1125,646.91 1126,646.81 1127,646.72 1128,646.65 1129,646.58 1130,646.52 1131,646.46 1132,646.41 1133,646.34 1134,646.27 1135,646.19 1136,646.09 1137,645.98 1138,645.87 1139,645.74 1140,645.61 1141,645.48 1142,645.33 1143,645.18 1144,645.03 1145,644.87 1146,644.7 1147,644.53 1148,644.35 1149,644.17 1150,643.98 1151,643.78 1152,643.57 1153,643.35 1154,643.11 1155,642.87 1156,642.62 1157,642.36 1158,642.1 1159,641.83 1160,641.55 1161,641.27 1162,640.98 1163,640.69 1164,640.39 1165,640.07 1166,639.75 1167,639.41 1168,639.07 1169,638.72 1170,638.36 1171,637.99 1172,637.63 1173,637.25 1174,636.88 1175,636.51 1176,636.13 1177,635.76 1178,635.38 1179,634.99 1180,634.59 1181,634.18 1182,633.75 1183,633.31 1184,632.84 1185,632.35 1186,631.85 1187,631.34 1188,630.81 1189,630.28 1190,629.75 1191,629.21 1192,628.67 1193,628.12 1194,627.55 1195,626.98 1196,626.39 1197,625.78 1198,625.16 1199,624.51 1200,623.84 1201,623.13 1202,622.38 1203,621.59 1204,620.78 1205,619.95 1206,619.1 1207,618.26 1208,617.38 1209,616.47 1210,615.56 1211,614.64 1212,613.74 1213,612.87 1214,612.03 1215,611.21 1216,610.4 1217,609.6 1218,608.82 1219,608.06 1220,607.31 1221,606.56 1222,605.79 1223,605.05 1224,604.33 1225,603.68 1226,603.09 1227,602.58 1228,602.08 1229,601.6 1230,601.17 1231,600.79 1232,600.49 1233,600.28 1234,600.13 1235,599.99 1236,599.86 1237,599.76 1238,599.69 1239,599.65 1240,599.65 1241,599.74 1242,599.9 1243,600.12 1244,600.37 1245,600.65 1246,600.92 1247,601.2 1248,601.54 1249,601.92 1250,602.33 1251,602.77 1252,603.23 1253,603.71 1254,604.23 1255,604.8 1256,605.41 1257,606.04 1258,606.67 1259,607.31 1260,607.94 1261,608.58 1262,609.24 1263,609.91 1264,610.57 1265,611.24 1266,611.89 1267,612.53 1268,613.17 1269,613.82 1270,614.45 1271,615.08 1272,615.71 1273,616.33 1274,616.96 1275,617.59 1276,618.22 1277,618.82 1278,619.38 1279,619.89 1280,620.35 1281,620.77 1282,621.16 1283,621.54 1284,621.91 1285,622.28 1286,622.68 1287,623.06 1288,623.44 1289,623.81 1290,624.2 1291,624.61 1292,625.05 1293,625.52 1294,626.05 1295,626.61 1296,627.19 1297,627.78 1298,628.36 1299,628.91 1300,629.46 1301,630 1302,630.55 1303,631.08 1304,631.61 1305,632.14 1306,632.65 1307,633.16 1308,633.65 1309,634.15 1310,634.64 1311,635.13 1312,635.62 1313,636.12 1314,636.64 1315,637.15 1316,637.66 1317,638.15 1318,638.63 1319,639.07 1320,639.5 1321,639.92 1322,640.33 1323,640.72 1324,641.09 1325,641.45 1326,641.78 1327,642.09 1328,642.39 1329,642.67 1330,642.96 1331,643.24 1332,643.54 1333,643.85 1334,644.18 1335,644.51 1336,644.82 1337,645.1 1338,645.35 1339,645.56 1340,645.75 1341,645.92 1342,646.08 1343,646.22 1344,646.36 1345,646.48 1346,646.59 1347,646.67 1348,646.74 1349,646.81 1350,646.91 1351,647.04 1352,647.31 1353,647.69 1354,647.69 1355,647.69 1356,647.69 1357,647.69 1358,647.69 1359,647.69 1360,647.69 1361,647.69 1362,647.69 1363,647.69 1364,647.69 1365,647.69 1366,647.69 1367,647.69 1368,647.69 1369,647.69 1370,647.69 1371,647.69 1372,647.69 1373,647.69 1373.9,647.69 1373.9,648.69 1373,648.69 1372,648.69 1371,648.69 1370,648.69 1369,648.69 1368,648.69 1367,648.69 1366,648.69 1365,648.69 1364,648.69 1363,648.69 1362,648.69 1361,648.69 1360,648.69 1359,648.69 1358,648.69 1357,648.69 1356,648.69 1355,648.69 1354,648.69 1353,648.69 1352,649.07 1351,649.34 1350,649.47 1349,649.57 1348,649.64 1347,649.71 1346,649.79 1345,649.9 1344,650.02 1343,650.16 1342,650.3 1341,650.46 1340,650.63 1339,650.82 1338,651.03 1337,651.28 1336,651.56 1335,651.87 1334,652.2 1333,652.53 1332,652.84 1331,653.14 1330,653.42 1329,653.71 1328,653.99 1327,654.29 1326,654.6 1325,654.93 1324,655.29 1323,655.66 1322,656.05 1321,656.46 1320,656.88 1319,657.31 1318,657.75 1317,658.23 1316,658.72 1315,659.23 1314,659.74 1313,660.26 1312,660.76 1311,661.25 1310,661.74 1309,662.23 1308,662.73 1307,663.22 1306,663.73 1305,664.24 1304,664.77 1303,665.3 1302,665.83 1301,666.38 1300,666.92 1299,667.47 1298,668.02 1297,668.6 1296,669.19 1295,669.77 1294,670.33 1293,670.86 1292,671.33 1291,671.77 1290,672.18 1289,672.57 1288,672.94 1287,673.32 1286,673.7 1285,674.1 1284,674.47 1283,674.84 1282,675.22 1281,675.61 1280,676.03 1279,676.49 1278,677 1277,677.56 1276,678.16 1275,678.79 1274,679.42 1273,680.05 1272,680.67 1271,681.3 1270,681.93 1269,682.56 1268,683.21 1267,683.85 1266,684.49 1265,685.14 1264,685.81 1263,686.47 1262,687.14 1261,687.8 1260,688.44 1259,689.07 1258,689.71 1257,690.34 1256,690.97 1255,691.58 1254,692.15 1253,692.67 1252,693.15 1251,693.61 1250,694.05 1249,694.46 1248,694.84 1247,695.18 1246,695.46 1245,695.73 1244,696.01 1243,696.26 1242,696.48 1241,696.64 1240,696.73 1239,696.73 1238,696.69 1237,696.62 1236,696.52 1235,696.39 1234,696.25 1233,696.1 1232,695.89 1231,695.59 1230,695.21 1229,694.78 1228,694.3 1227,693.8 1226,693.29 1225,692.7 1224,692.05 1223,691.33 1222,690.59 1221,689.82 1220,689.07 1219,688.32 1218,687.56 1217,686.78 1216,685.98 1215,685.17 1214,684.35 1213,683.51 1212,682.64 1211,681.74 1210,680.82 1209,679.91 1208,679 1207,678.12 1206,677.28 1205,676.43 1204,675.6 1203,674.79 1202,674 1201,673.25 1200,672.54 1199,671.87 1198,671.22 1197,670.6 1196,669.99 1195,669.4 1194,668.83 1193,668.26 1192,667.71 1191,667.17 1190,666.63 1189,666.1 1188,665.57 1187,665.04 1186,664.53 1185,664.03 1184,663.54 1183,663.07 1182,662.63 1181,662.2 1180,661.79 1179,661.39 1178,661 1177,660.62 1176,660.25 1175,659.87 1174,659.5 1173,659.13 1172,658.75 1171,658.39 1170,658.02 1169,657.66 1168,657.31 1167,656.97 1166,656.63 1165,656.31 1164,655.99 1163,655.69 1162,655.4 1161,655.11 1160,654.83 1159,654.55 1158,654.28 1157,654.02 1156,653.76 1155,653.51 1154,653.27 1153,653.03 1152,652.81 1151,652.6 1150,652.4 1149,652.21 1148,652.03 1147,651.85 1146,651.68 1145,651.51 1144,651.35 1143,651.2 1142,651.05 1141,650.9 1140,650.77 1139,650.64 1138,650.51 1137,650.4 1136,650.29 1135,650.19 1134,650.11 1133,650.04 1132,649.97 1131,649.92 1130,649.86 1129,649.8 1128,649.73 1127,649.66 1126,649.57 1125,649.47 1124,649.35 1123,649.2 1122,648.83 1121,648.69 1120,648.69 1119,648.69 1118,648.69 1117,648.69 1116,648.69 1115,648.69 1114,648.69 1113,648.69 1112,648.69 1111,648.69 1110,648.69 1109,648.69 1108,648.69 1107,648.69 1106,648.69 1105,648.69 1104,648.69 1103,648.69 1102,648.69 1101.2,648.69"/>
</g>
<rect x="1032.1" y="58.3" width="270.6" height="4.5" fill="#F8766D"/>
<rect x="1121.5" y="47.2" width="91.3" height="26.7" fill="#F8766D"/>
<rect x="945.1" y="156.24" width="205.8" height="4.5" fill="#00BFC4"/>
<rect x="1016.2" y="145.14" width="68.8" height="26.7" fill="#00BFC4"/>
<rect x="1112" y="254.18" width="215.7" height="4.5" fill="#F8766D"/>
<rect x="1183.1" y="243.08" width="74.6" height="26.7" fill="#F8766D"/>
<rect x="1133.3" y="352.12" width="190.5" height="4.5" fill="#F8766D"/>
<rect x="1196" y="341.02" width="65.4" height="26.7" fill="#00BFC4"/>
<rect x="1169.7" y="450.06" width="210.2" height="4.5" fill="#F8766D"/>
<rect x="1240.6" y="438.96" width="72" height="26.7" fill="#00BFC4"/>
<rect x="1117.5" y="548" width="201.5" height="4.5" fill="#F8766D"/>
<rect x="1186" y="536.9" width="69.1" height="26.7" fill="#00BFC4"/>
<rect x="1163.4" y="645.94" width="158.5" height="4.5" fill="#F8766D"/>
<rect x="1216.9" y="634.84" width="52.9" height="26.7" fill="#00BFC4"/>
<circle cx="1166.5" cy="60.55" r="7.1" fill="#000"/>
<circle cx="1050.7" cy="158.49" r="7.1" fill="#000"/>
<circle cx="1220.9" cy="256.43" r="7.1" fill="#000"/>
<circle cx="1228.9" cy="354.37" r="7.1" fill="#000"/>
<circle cx="1276.2" cy="452.31" r="7.1" fill="#000"/>
<circle cx="1221.7" cy="550.25" r="7.1" fill="#000"/>
<circle cx="1242.5" cy="648.19" r="7.1" fill="#000"/>
<line x1="1185.7" y1="707.5" x2="1185.7" y2="1.9" stroke="#fff" stroke-width="4.45" stroke-dasharray="4.45 13.34"/>
<g stroke="#333333" stroke-width="4.45">
<line x1="1020.5" y1="706.7" x2="1020.5" y2="718.3"/>
<line x1="1185.6" y1="706.7" x2="1185.6" y2="718.3"/>
<line x1="1350.7" y1="706.7" x2="1350.7" y2="718.3"/>
</g>
<text class="ax" x="1020.5" y="752.1" text-anchor="middle">-25</text>
<text class="ax" x="1185.6" y="752.1" text-anchor="middle">0</text>
<text class="ax" x="1350.7" y="752.1" text-anchor="middle">25</text>
<text class="ti" x="1186" y="810.3" text-anchor="middle">RT (ms)</text>
</g>
<g stroke="#333333" stroke-width="4.45">
<line x1="163" y1="60.55" x2="174.4" y2="60.55"/>
<line x1="163" y1="158.49" x2="174.4" y2="158.49"/>
<line x1="163" y1="256.43" x2="174.4" y2="256.43"/>
<line x1="163" y1="354.37" x2="174.4" y2="354.37"/>
<line x1="163" y1="452.31" x2="174.4" y2="452.31"/>
<line x1="163" y1="550.25" x2="174.4" y2="550.25"/>
<line x1="163" y1="648.19" x2="174.4" y2="648.19"/>
</g>
<text class="ax yl" x="154.2" y="72.55" text-anchor="end">Intercept</text>
<text class="ax yl" x="154.2" y="170.49" text-anchor="end">alertingN</text>
<text class="ax yl" x="154.2" y="268.43" text-anchor="end">alertingX</text>
<text class="ax yl" x="154.2" y="366.37" text-anchor="end">orientingN</text>
<text class="ax yl" x="154.2" y="464.31" text-anchor="end">orientingX</text>
<text class="ax yl" x="154.2" y="562.25" text-anchor="end">Flankers</text>
<text class="ax yl" x="154.2" y="660.19" text-anchor="end">sStroop</text>
</svg>
</body>
</html>
